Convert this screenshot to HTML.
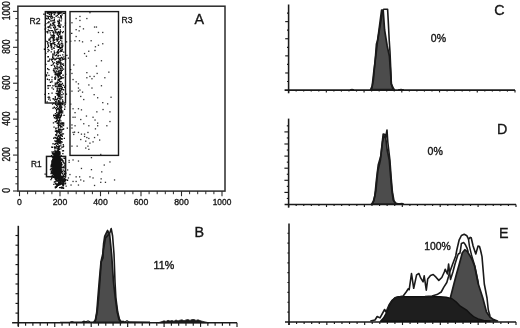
<!DOCTYPE html>
<html lang="en">
<head>
<meta charset="utf-8">
<title>Flow cytometry panels A-E</title>
<style>
html,body{margin:0;padding:0;background:#fff;}
body{width:520px;height:328px;overflow:hidden;}
svg{display:block;}
svg text{font-family:"Liberation Sans",sans-serif;fill:#161616;stroke:#161616;stroke-width:0.35px;}
</style>
</head>
<body>
<svg width="520" height="328" viewBox="0 0 520 328">
<rect width="520" height="328" fill="#ffffff"/>
<g id="panelA"><rect x="17.9" y="6.2" width="207.1" height="184.9" fill="none" stroke="#2b2b2b" stroke-width="1.5"/>
<line x1="13" y1="191.00" x2="17.9" y2="191.00" stroke="#2b2b2b" stroke-width="1.1"/>
<line x1="15.4" y1="183.82" x2="17.9" y2="183.82" stroke="#2b2b2b" stroke-width="1"/>
<line x1="15.4" y1="176.63" x2="17.9" y2="176.63" stroke="#2b2b2b" stroke-width="1"/>
<line x1="15.4" y1="169.45" x2="17.9" y2="169.45" stroke="#2b2b2b" stroke-width="1"/>
<line x1="15.4" y1="162.26" x2="17.9" y2="162.26" stroke="#2b2b2b" stroke-width="1"/>
<line x1="13" y1="155.08" x2="17.9" y2="155.08" stroke="#2b2b2b" stroke-width="1.1"/>
<line x1="15.4" y1="147.90" x2="17.9" y2="147.90" stroke="#2b2b2b" stroke-width="1"/>
<line x1="15.4" y1="140.71" x2="17.9" y2="140.71" stroke="#2b2b2b" stroke-width="1"/>
<line x1="15.4" y1="133.53" x2="17.9" y2="133.53" stroke="#2b2b2b" stroke-width="1"/>
<line x1="15.4" y1="126.34" x2="17.9" y2="126.34" stroke="#2b2b2b" stroke-width="1"/>
<line x1="13" y1="119.16" x2="17.9" y2="119.16" stroke="#2b2b2b" stroke-width="1.1"/>
<line x1="15.4" y1="111.98" x2="17.9" y2="111.98" stroke="#2b2b2b" stroke-width="1"/>
<line x1="15.4" y1="104.79" x2="17.9" y2="104.79" stroke="#2b2b2b" stroke-width="1"/>
<line x1="15.4" y1="97.61" x2="17.9" y2="97.61" stroke="#2b2b2b" stroke-width="1"/>
<line x1="15.4" y1="90.42" x2="17.9" y2="90.42" stroke="#2b2b2b" stroke-width="1"/>
<line x1="13" y1="83.24" x2="17.9" y2="83.24" stroke="#2b2b2b" stroke-width="1.1"/>
<line x1="15.4" y1="76.06" x2="17.9" y2="76.06" stroke="#2b2b2b" stroke-width="1"/>
<line x1="15.4" y1="68.87" x2="17.9" y2="68.87" stroke="#2b2b2b" stroke-width="1"/>
<line x1="15.4" y1="61.69" x2="17.9" y2="61.69" stroke="#2b2b2b" stroke-width="1"/>
<line x1="15.4" y1="54.50" x2="17.9" y2="54.50" stroke="#2b2b2b" stroke-width="1"/>
<line x1="13" y1="47.32" x2="17.9" y2="47.32" stroke="#2b2b2b" stroke-width="1.1"/>
<line x1="15.4" y1="40.14" x2="17.9" y2="40.14" stroke="#2b2b2b" stroke-width="1"/>
<line x1="15.4" y1="32.95" x2="17.9" y2="32.95" stroke="#2b2b2b" stroke-width="1"/>
<line x1="15.4" y1="25.77" x2="17.9" y2="25.77" stroke="#2b2b2b" stroke-width="1"/>
<line x1="15.4" y1="18.58" x2="17.9" y2="18.58" stroke="#2b2b2b" stroke-width="1"/>
<line x1="13" y1="11.40" x2="17.9" y2="11.40" stroke="#2b2b2b" stroke-width="1.1"/>
<line x1="19.50" y1="191" x2="19.50" y2="196.2" stroke="#2b2b2b" stroke-width="1.1"/>
<line x1="27.60" y1="191" x2="27.60" y2="194.2" stroke="#2b2b2b" stroke-width="1"/>
<line x1="35.70" y1="191" x2="35.70" y2="194.2" stroke="#2b2b2b" stroke-width="1"/>
<line x1="43.80" y1="191" x2="43.80" y2="194.2" stroke="#2b2b2b" stroke-width="1"/>
<line x1="51.90" y1="191" x2="51.90" y2="194.2" stroke="#2b2b2b" stroke-width="1"/>
<line x1="60.00" y1="191" x2="60.00" y2="196.2" stroke="#2b2b2b" stroke-width="1.1"/>
<line x1="68.10" y1="191" x2="68.10" y2="194.2" stroke="#2b2b2b" stroke-width="1"/>
<line x1="76.20" y1="191" x2="76.20" y2="194.2" stroke="#2b2b2b" stroke-width="1"/>
<line x1="84.30" y1="191" x2="84.30" y2="194.2" stroke="#2b2b2b" stroke-width="1"/>
<line x1="92.40" y1="191" x2="92.40" y2="194.2" stroke="#2b2b2b" stroke-width="1"/>
<line x1="100.50" y1="191" x2="100.50" y2="196.2" stroke="#2b2b2b" stroke-width="1.1"/>
<line x1="108.60" y1="191" x2="108.60" y2="194.2" stroke="#2b2b2b" stroke-width="1"/>
<line x1="116.70" y1="191" x2="116.70" y2="194.2" stroke="#2b2b2b" stroke-width="1"/>
<line x1="124.80" y1="191" x2="124.80" y2="194.2" stroke="#2b2b2b" stroke-width="1"/>
<line x1="132.90" y1="191" x2="132.90" y2="194.2" stroke="#2b2b2b" stroke-width="1"/>
<line x1="141.00" y1="191" x2="141.00" y2="196.2" stroke="#2b2b2b" stroke-width="1.1"/>
<line x1="149.10" y1="191" x2="149.10" y2="194.2" stroke="#2b2b2b" stroke-width="1"/>
<line x1="157.20" y1="191" x2="157.20" y2="194.2" stroke="#2b2b2b" stroke-width="1"/>
<line x1="165.30" y1="191" x2="165.30" y2="194.2" stroke="#2b2b2b" stroke-width="1"/>
<line x1="173.40" y1="191" x2="173.40" y2="194.2" stroke="#2b2b2b" stroke-width="1"/>
<line x1="181.50" y1="191" x2="181.50" y2="196.2" stroke="#2b2b2b" stroke-width="1.1"/>
<line x1="189.60" y1="191" x2="189.60" y2="194.2" stroke="#2b2b2b" stroke-width="1"/>
<line x1="197.70" y1="191" x2="197.70" y2="194.2" stroke="#2b2b2b" stroke-width="1"/>
<line x1="205.80" y1="191" x2="205.80" y2="194.2" stroke="#2b2b2b" stroke-width="1"/>
<line x1="213.90" y1="191" x2="213.90" y2="194.2" stroke="#2b2b2b" stroke-width="1"/>
<line x1="222.00" y1="191" x2="222.00" y2="196.2" stroke="#2b2b2b" stroke-width="1.1"/>
<text x="19.50" y="205" font-size="9.4" text-anchor="middle" textLength="4.8" lengthAdjust="spacingAndGlyphs">0</text>
<text transform="translate(9.9 190.40) rotate(-90)" font-size="10" text-anchor="middle" textLength="4.8" lengthAdjust="spacingAndGlyphs">0</text>
<text x="60.00" y="205" font-size="9.4" text-anchor="middle" textLength="14.5" lengthAdjust="spacingAndGlyphs">200</text>
<text transform="translate(9.9 154.48) rotate(-90)" font-size="10" text-anchor="middle" textLength="14.2" lengthAdjust="spacingAndGlyphs">200</text>
<text x="100.50" y="205" font-size="9.4" text-anchor="middle" textLength="14.5" lengthAdjust="spacingAndGlyphs">400</text>
<text transform="translate(9.9 118.56) rotate(-90)" font-size="10" text-anchor="middle" textLength="14.2" lengthAdjust="spacingAndGlyphs">400</text>
<text x="141.00" y="205" font-size="9.4" text-anchor="middle" textLength="14.5" lengthAdjust="spacingAndGlyphs">600</text>
<text transform="translate(9.9 82.64) rotate(-90)" font-size="10" text-anchor="middle" textLength="14.2" lengthAdjust="spacingAndGlyphs">600</text>
<text x="181.50" y="205" font-size="9.4" text-anchor="middle" textLength="14.5" lengthAdjust="spacingAndGlyphs">800</text>
<text transform="translate(9.9 46.72) rotate(-90)" font-size="10" text-anchor="middle" textLength="14.2" lengthAdjust="spacingAndGlyphs">800</text>
<text x="222.00" y="205" font-size="9.4" text-anchor="middle" textLength="18.6" lengthAdjust="spacingAndGlyphs">1000</text>
<text transform="translate(9.9 10.80) rotate(-90)" font-size="10" text-anchor="middle" textLength="19.0" lengthAdjust="spacingAndGlyphs">1000</text>
<rect x="45.3" y="11.6" width="20.2" height="91.4" fill="none" stroke="#1a1a1a" stroke-width="1.4"/>
<rect x="70" y="11.6" width="48.5" height="143.8" fill="none" stroke="#1a1a1a" stroke-width="1.4"/>
<rect x="46.5" y="156.4" width="19.1" height="20.3" fill="none" stroke="#1a1a1a" stroke-width="1.5"/>
<text x="29.6" y="24.2" font-size="9" textLength="11" lengthAdjust="spacingAndGlyphs">R2</text>
<text x="121.6" y="23.2" font-size="9" textLength="11" lengthAdjust="spacingAndGlyphs">R3</text>
<text x="31" y="167" font-size="9" textLength="10.6" lengthAdjust="spacingAndGlyphs">R1</text>
<text x="194.6" y="24.2" font-size="14.3">A</text>
<rect x="89.3" y="12.0" width="1.3" height="1.3" fill="#333"/>
<rect x="75.5" y="17.9" width="1.3" height="1.3" fill="#333"/>
<rect x="79.3" y="15.8" width="1.3" height="1.3" fill="#333"/>
<rect x="79.3" y="19.8" width="1.3" height="1.3" fill="#333"/>
<rect x="86.2" y="17.9" width="1.3" height="1.3" fill="#333"/>
<rect x="71.3" y="22.1" width="1.3" height="1.3" fill="#333"/>
<rect x="79.3" y="25.9" width="1.3" height="1.3" fill="#333"/>
<rect x="75.5" y="29.0" width="1.3" height="1.3" fill="#333"/>
<rect x="78.5" y="30.2" width="1.3" height="1.3" fill="#333"/>
<rect x="82.8" y="28.2" width="1.3" height="1.3" fill="#333"/>
<rect x="93.9" y="26.4" width="1.3" height="1.3" fill="#333"/>
<rect x="95.8" y="26.4" width="1.3" height="1.3" fill="#333"/>
<rect x="97.8" y="31.8" width="1.3" height="1.3" fill="#333"/>
<rect x="102.1" y="31.8" width="1.3" height="1.3" fill="#333"/>
<rect x="75.5" y="35.9" width="1.3" height="1.3" fill="#333"/>
<rect x="70.1" y="40.6" width="1.3" height="1.3" fill="#333"/>
<rect x="74.3" y="40.1" width="1.3" height="1.3" fill="#333"/>
<rect x="78.8" y="40.1" width="1.3" height="1.3" fill="#333"/>
<rect x="81.9" y="41.2" width="1.3" height="1.3" fill="#333"/>
<rect x="90.5" y="40.1" width="1.3" height="1.3" fill="#333"/>
<rect x="102.1" y="43.1" width="1.3" height="1.3" fill="#333"/>
<rect x="97.8" y="44.6" width="1.3" height="1.3" fill="#333"/>
<rect x="94.8" y="46.1" width="1.3" height="1.3" fill="#333"/>
<rect x="94.3" y="49.8" width="1.3" height="1.3" fill="#333"/>
<rect x="88.1" y="50.6" width="1.3" height="1.3" fill="#333"/>
<rect x="83.9" y="52.9" width="1.3" height="1.3" fill="#333"/>
<rect x="85.8" y="55.6" width="1.3" height="1.3" fill="#333"/>
<rect x="100.8" y="60.1" width="1.3" height="1.3" fill="#333"/>
<rect x="73.1" y="64.3" width="1.3" height="1.3" fill="#333"/>
<rect x="95.8" y="65.4" width="1.3" height="1.3" fill="#333"/>
<rect x="71.3" y="72.8" width="1.3" height="1.3" fill="#333"/>
<rect x="86.2" y="72.0" width="1.3" height="1.3" fill="#333"/>
<rect x="96.5" y="72.8" width="1.3" height="1.3" fill="#333"/>
<rect x="108.2" y="71.5" width="1.3" height="1.3" fill="#333"/>
<rect x="86.2" y="77.1" width="1.3" height="1.3" fill="#333"/>
<rect x="89.3" y="75.8" width="1.3" height="1.3" fill="#333"/>
<rect x="91.3" y="78.1" width="1.3" height="1.3" fill="#333"/>
<rect x="93.5" y="75.8" width="1.3" height="1.3" fill="#333"/>
<rect x="104.2" y="77.1" width="1.3" height="1.3" fill="#333"/>
<rect x="72.4" y="78.9" width="1.3" height="1.3" fill="#333"/>
<rect x="75.5" y="81.2" width="1.3" height="1.3" fill="#333"/>
<rect x="77.8" y="83.2" width="1.3" height="1.3" fill="#333"/>
<rect x="88.2" y="84.3" width="1.3" height="1.3" fill="#333"/>
<rect x="100.8" y="85.1" width="1.3" height="1.3" fill="#333"/>
<rect x="77.8" y="87.4" width="1.3" height="1.3" fill="#333"/>
<rect x="91.3" y="87.4" width="1.3" height="1.3" fill="#333"/>
<rect x="71.3" y="90.5" width="1.3" height="1.3" fill="#333"/>
<rect x="77.8" y="90.5" width="1.3" height="1.3" fill="#333"/>
<rect x="79.3" y="89.4" width="1.3" height="1.3" fill="#333"/>
<rect x="81.9" y="91.5" width="1.3" height="1.3" fill="#333"/>
<rect x="93.5" y="94.0" width="1.3" height="1.3" fill="#333"/>
<rect x="80.1" y="95.8" width="1.3" height="1.3" fill="#333"/>
<rect x="97.0" y="97.1" width="1.3" height="1.3" fill="#333"/>
<rect x="110.4" y="96.6" width="1.3" height="1.3" fill="#333"/>
<rect x="83.1" y="98.9" width="1.3" height="1.3" fill="#333"/>
<rect x="102.1" y="102.0" width="1.3" height="1.3" fill="#333"/>
<rect x="107.0" y="103.2" width="1.3" height="1.3" fill="#333"/>
<rect x="70.1" y="103.5" width="1.3" height="1.3" fill="#333"/>
<rect x="72.4" y="108.1" width="1.3" height="1.3" fill="#333"/>
<rect x="77.8" y="108.1" width="1.3" height="1.3" fill="#333"/>
<rect x="80.8" y="109.2" width="1.3" height="1.3" fill="#333"/>
<rect x="102.4" y="108.9" width="1.3" height="1.3" fill="#333"/>
<rect x="96.2" y="111.2" width="1.3" height="1.3" fill="#333"/>
<rect x="109.3" y="111.2" width="1.3" height="1.3" fill="#333"/>
<rect x="74.4" y="112.0" width="1.3" height="1.3" fill="#333"/>
<rect x="85.8" y="115.4" width="1.3" height="1.3" fill="#333"/>
<rect x="72.4" y="116.6" width="1.3" height="1.3" fill="#333"/>
<rect x="74.4" y="116.6" width="1.3" height="1.3" fill="#333"/>
<rect x="92.4" y="116.6" width="1.3" height="1.3" fill="#333"/>
<rect x="94.4" y="119.4" width="1.3" height="1.3" fill="#333"/>
<rect x="80.1" y="118.9" width="1.3" height="1.3" fill="#333"/>
<rect x="109.3" y="120.9" width="1.3" height="1.3" fill="#333"/>
<rect x="83.1" y="123.1" width="1.3" height="1.3" fill="#333"/>
<rect x="97.0" y="122.5" width="1.3" height="1.3" fill="#333"/>
<rect x="71.3" y="124.3" width="1.3" height="1.3" fill="#333"/>
<rect x="74.4" y="125.1" width="1.3" height="1.3" fill="#333"/>
<rect x="88.2" y="125.1" width="1.3" height="1.3" fill="#333"/>
<rect x="97.0" y="125.1" width="1.3" height="1.3" fill="#333"/>
<rect x="106.2" y="125.1" width="1.3" height="1.3" fill="#333"/>
<rect x="71.3" y="127.4" width="1.3" height="1.3" fill="#333"/>
<rect x="94.8" y="128.2" width="1.3" height="1.3" fill="#333"/>
<rect x="72.4" y="131.8" width="1.3" height="1.3" fill="#333"/>
<rect x="77.8" y="131.8" width="1.3" height="1.3" fill="#333"/>
<rect x="87.3" y="131.8" width="1.3" height="1.3" fill="#333"/>
<rect x="80.8" y="133.5" width="1.3" height="1.3" fill="#333"/>
<rect x="83.9" y="133.5" width="1.3" height="1.3" fill="#333"/>
<rect x="73.1" y="133.8" width="1.3" height="1.3" fill="#333"/>
<rect x="97.0" y="134.3" width="1.3" height="1.3" fill="#333"/>
<rect x="83.9" y="135.8" width="1.3" height="1.3" fill="#333"/>
<rect x="86.2" y="136.9" width="1.3" height="1.3" fill="#333"/>
<rect x="88.2" y="137.8" width="1.3" height="1.3" fill="#333"/>
<rect x="93.9" y="136.9" width="1.3" height="1.3" fill="#333"/>
<rect x="80.1" y="138.9" width="1.3" height="1.3" fill="#333"/>
<rect x="99.0" y="139.4" width="1.3" height="1.3" fill="#333"/>
<rect x="85.1" y="140.5" width="1.3" height="1.3" fill="#333"/>
<rect x="92.4" y="141.2" width="1.3" height="1.3" fill="#333"/>
<rect x="89.3" y="142.5" width="1.3" height="1.3" fill="#333"/>
<rect x="76.5" y="145.5" width="1.3" height="1.3" fill="#333"/>
<rect x="87.3" y="145.5" width="1.3" height="1.3" fill="#333"/>
<rect x="71.3" y="145.5" width="1.3" height="1.3" fill="#333"/>
<rect x="85.1" y="147.4" width="1.3" height="1.3" fill="#333"/>
<rect x="88.2" y="148.7" width="1.3" height="1.3" fill="#333"/>
<rect x="100.1" y="153.8" width="1.3" height="1.3" fill="#333"/>
<rect x="90.8" y="157.0" width="1.3" height="1.3" fill="#333"/>
<rect x="68.5" y="159.8" width="1.3" height="1.3" fill="#333"/>
<rect x="72.4" y="159.3" width="1.3" height="1.3" fill="#333"/>
<rect x="77.8" y="160.4" width="1.3" height="1.3" fill="#333"/>
<rect x="68.5" y="161.7" width="1.3" height="1.3" fill="#333"/>
<rect x="109.3" y="161.3" width="1.3" height="1.3" fill="#333"/>
<rect x="103.6" y="164.4" width="1.3" height="1.3" fill="#333"/>
<rect x="80.8" y="167.8" width="1.3" height="1.3" fill="#333"/>
<rect x="90.8" y="169.0" width="1.3" height="1.3" fill="#333"/>
<rect x="67.0" y="169.3" width="1.3" height="1.3" fill="#333"/>
<rect x="101.1" y="171.2" width="1.3" height="1.3" fill="#333"/>
<rect x="69.3" y="173.9" width="1.3" height="1.3" fill="#333"/>
<rect x="75.5" y="176.2" width="1.3" height="1.3" fill="#333"/>
<rect x="79.0" y="176.2" width="1.3" height="1.3" fill="#333"/>
<rect x="89.3" y="176.2" width="1.3" height="1.3" fill="#333"/>
<rect x="92.4" y="177.3" width="1.3" height="1.3" fill="#333"/>
<rect x="67.8" y="177.3" width="1.3" height="1.3" fill="#333"/>
<rect x="100.5" y="178.2" width="1.3" height="1.3" fill="#333"/>
<rect x="80.1" y="179.3" width="1.3" height="1.3" fill="#333"/>
<rect x="113.9" y="179.3" width="1.3" height="1.3" fill="#333"/>
<rect x="72.4" y="180.8" width="1.3" height="1.3" fill="#333"/>
<rect x="75.5" y="180.8" width="1.3" height="1.3" fill="#333"/>
<rect x="83.1" y="180.4" width="1.3" height="1.3" fill="#333"/>
<rect x="100.1" y="181.7" width="1.3" height="1.3" fill="#333"/>
<rect x="104.8" y="181.7" width="1.3" height="1.3" fill="#333"/>
<rect x="70.4" y="184.4" width="1.3" height="1.3" fill="#333"/>
<rect x="77.8" y="184.4" width="1.3" height="1.3" fill="#333"/>
<rect x="93.9" y="184.8" width="1.3" height="1.3" fill="#333"/>
<rect x="65.5" y="185.5" width="1.3" height="1.3" fill="#333"/>
<rect x="62.4" y="186.3" width="1.3" height="1.3" fill="#333"/>
<path d="M56.6 164.2h1.3v1.3h-1.3zM55.1 164.4h1.3v1.3h-1.3zM55.2 160.4h1.3v1.3h-1.3zM56.5 171.9h1.3v1.3h-1.3zM56.1 171.5h1.3v1.3h-1.3zM56.0 167.9h1.3v1.3h-1.3zM57.3 156.3h1.3v1.3h-1.3zM56.6 168.5h1.3v1.3h-1.3zM52.3 156.2h1.3v1.3h-1.3zM54.8 160.7h1.3v1.3h-1.3zM55.6 167.4h1.3v1.3h-1.3zM54.4 168.6h1.3v1.3h-1.3zM56.4 167.4h1.3v1.3h-1.3zM58.9 161.9h1.3v1.3h-1.3zM57.9 168.8h1.3v1.3h-1.3zM54.2 162.2h1.3v1.3h-1.3zM55.4 163.7h1.3v1.3h-1.3zM56.1 169.2h1.3v1.3h-1.3zM53.8 163.1h1.3v1.3h-1.3zM58.0 162.7h1.3v1.3h-1.3zM56.1 161.1h1.3v1.3h-1.3zM52.8 168.0h1.3v1.3h-1.3zM58.1 165.9h1.3v1.3h-1.3zM55.0 154.4h1.3v1.3h-1.3zM54.1 165.1h1.3v1.3h-1.3zM55.5 168.4h1.3v1.3h-1.3zM57.2 157.4h1.3v1.3h-1.3zM57.4 169.4h1.3v1.3h-1.3zM56.3 173.7h1.3v1.3h-1.3zM53.2 166.3h1.3v1.3h-1.3zM54.5 169.1h1.3v1.3h-1.3zM53.2 163.1h1.3v1.3h-1.3zM54.6 160.2h1.3v1.3h-1.3zM51.8 172.9h1.3v1.3h-1.3zM56.1 157.5h1.3v1.3h-1.3zM56.7 173.7h1.3v1.3h-1.3zM50.9 155.0h1.3v1.3h-1.3zM54.3 167.7h1.3v1.3h-1.3zM57.5 159.4h1.3v1.3h-1.3zM55.9 171.8h1.3v1.3h-1.3zM56.5 167.0h1.3v1.3h-1.3zM56.8 174.6h1.3v1.3h-1.3zM56.7 168.6h1.3v1.3h-1.3zM58.1 156.9h1.3v1.3h-1.3zM56.7 171.0h1.3v1.3h-1.3zM54.4 154.6h1.3v1.3h-1.3zM52.2 170.4h1.3v1.3h-1.3zM57.6 164.6h1.3v1.3h-1.3zM58.7 158.3h1.3v1.3h-1.3zM55.4 168.7h1.3v1.3h-1.3zM56.9 167.5h1.3v1.3h-1.3zM57.8 166.3h1.3v1.3h-1.3zM54.9 161.9h1.3v1.3h-1.3zM55.7 171.5h1.3v1.3h-1.3zM57.4 160.7h1.3v1.3h-1.3zM54.8 173.9h1.3v1.3h-1.3zM55.4 157.9h1.3v1.3h-1.3zM55.1 164.8h1.3v1.3h-1.3zM53.7 173.5h1.3v1.3h-1.3zM53.2 172.7h1.3v1.3h-1.3zM56.8 161.2h1.3v1.3h-1.3zM57.3 172.0h1.3v1.3h-1.3zM55.9 167.6h1.3v1.3h-1.3zM56.7 166.5h1.3v1.3h-1.3zM56.2 164.7h1.3v1.3h-1.3zM55.7 168.9h1.3v1.3h-1.3zM56.7 169.9h1.3v1.3h-1.3zM56.3 176.9h1.3v1.3h-1.3zM54.9 163.3h1.3v1.3h-1.3zM57.4 165.6h1.3v1.3h-1.3zM56.4 163.8h1.3v1.3h-1.3zM50.8 175.9h1.3v1.3h-1.3zM56.1 159.4h1.3v1.3h-1.3zM56.1 167.9h1.3v1.3h-1.3zM56.9 163.2h1.3v1.3h-1.3zM54.7 167.2h1.3v1.3h-1.3zM56.3 164.1h1.3v1.3h-1.3zM57.5 169.9h1.3v1.3h-1.3zM56.0 172.4h1.3v1.3h-1.3zM55.1 176.7h1.3v1.3h-1.3zM54.3 164.2h1.3v1.3h-1.3zM56.5 163.4h1.3v1.3h-1.3zM53.3 166.6h1.3v1.3h-1.3zM54.0 166.6h1.3v1.3h-1.3zM59.1 167.4h1.3v1.3h-1.3zM55.3 176.6h1.3v1.3h-1.3zM52.4 169.2h1.3v1.3h-1.3zM54.3 165.4h1.3v1.3h-1.3zM55.5 160.4h1.3v1.3h-1.3zM55.7 167.0h1.3v1.3h-1.3zM57.1 164.9h1.3v1.3h-1.3zM51.2 160.7h1.3v1.3h-1.3zM57.1 153.2h1.3v1.3h-1.3zM55.3 159.6h1.3v1.3h-1.3zM57.0 166.4h1.3v1.3h-1.3zM56.9 166.9h1.3v1.3h-1.3zM52.8 157.1h1.3v1.3h-1.3zM53.8 169.1h1.3v1.3h-1.3zM52.9 159.9h1.3v1.3h-1.3zM57.1 172.7h1.3v1.3h-1.3zM53.9 173.9h1.3v1.3h-1.3zM53.5 165.7h1.3v1.3h-1.3zM58.7 169.9h1.3v1.3h-1.3zM58.6 160.7h1.3v1.3h-1.3zM55.3 171.2h1.3v1.3h-1.3zM58.3 154.6h1.3v1.3h-1.3zM54.5 165.1h1.3v1.3h-1.3zM56.4 167.9h1.3v1.3h-1.3zM53.7 174.0h1.3v1.3h-1.3zM58.5 172.0h1.3v1.3h-1.3zM55.3 173.8h1.3v1.3h-1.3zM57.6 161.5h1.3v1.3h-1.3zM55.9 166.3h1.3v1.3h-1.3zM55.1 173.6h1.3v1.3h-1.3zM54.9 152.8h1.3v1.3h-1.3zM57.2 155.3h1.3v1.3h-1.3zM54.5 167.4h1.3v1.3h-1.3zM57.2 165.6h1.3v1.3h-1.3zM58.2 166.1h1.3v1.3h-1.3zM57.6 165.3h1.3v1.3h-1.3zM58.7 174.0h1.3v1.3h-1.3zM57.3 161.9h1.3v1.3h-1.3zM53.6 155.1h1.3v1.3h-1.3zM57.7 154.7h1.3v1.3h-1.3zM55.6 158.8h1.3v1.3h-1.3zM55.6 164.6h1.3v1.3h-1.3zM56.1 162.3h1.3v1.3h-1.3zM55.7 175.7h1.3v1.3h-1.3zM57.6 168.6h1.3v1.3h-1.3zM53.3 164.5h1.3v1.3h-1.3zM57.7 162.5h1.3v1.3h-1.3zM54.5 156.4h1.3v1.3h-1.3zM57.2 171.3h1.3v1.3h-1.3zM57.2 165.7h1.3v1.3h-1.3zM53.4 166.6h1.3v1.3h-1.3zM54.4 156.9h1.3v1.3h-1.3zM54.6 170.8h1.3v1.3h-1.3zM54.2 160.6h1.3v1.3h-1.3zM55.4 157.1h1.3v1.3h-1.3zM56.3 159.0h1.3v1.3h-1.3zM56.3 152.4h1.3v1.3h-1.3zM52.0 162.1h1.3v1.3h-1.3zM55.1 169.7h1.3v1.3h-1.3zM54.0 153.2h1.3v1.3h-1.3zM54.8 167.3h1.3v1.3h-1.3zM57.1 170.0h1.3v1.3h-1.3zM56.3 169.4h1.3v1.3h-1.3zM56.9 173.1h1.3v1.3h-1.3zM51.7 168.2h1.3v1.3h-1.3zM58.1 170.7h1.3v1.3h-1.3zM54.8 164.0h1.3v1.3h-1.3zM52.3 176.5h1.3v1.3h-1.3zM60.3 168.3h1.3v1.3h-1.3zM57.0 160.5h1.3v1.3h-1.3zM55.4 176.2h1.3v1.3h-1.3zM57.4 168.8h1.3v1.3h-1.3zM55.5 160.6h1.3v1.3h-1.3zM57.2 167.3h1.3v1.3h-1.3zM55.3 165.5h1.3v1.3h-1.3zM55.0 160.0h1.3v1.3h-1.3zM55.8 170.6h1.3v1.3h-1.3zM54.1 160.9h1.3v1.3h-1.3zM57.8 171.4h1.3v1.3h-1.3zM55.5 168.2h1.3v1.3h-1.3zM56.2 165.5h1.3v1.3h-1.3zM54.2 166.5h1.3v1.3h-1.3zM57.1 169.7h1.3v1.3h-1.3zM53.8 174.4h1.3v1.3h-1.3zM56.7 165.5h1.3v1.3h-1.3zM54.4 172.0h1.3v1.3h-1.3zM54.9 164.9h1.3v1.3h-1.3zM56.7 173.6h1.3v1.3h-1.3zM56.0 163.7h1.3v1.3h-1.3zM54.6 173.0h1.3v1.3h-1.3zM54.9 166.4h1.3v1.3h-1.3zM55.1 166.9h1.3v1.3h-1.3zM54.1 169.7h1.3v1.3h-1.3zM57.7 161.9h1.3v1.3h-1.3zM55.0 169.6h1.3v1.3h-1.3zM57.3 170.4h1.3v1.3h-1.3zM56.6 165.8h1.3v1.3h-1.3zM56.2 166.6h1.3v1.3h-1.3zM57.2 167.1h1.3v1.3h-1.3zM58.7 162.4h1.3v1.3h-1.3zM57.8 164.0h1.3v1.3h-1.3zM57.2 167.9h1.3v1.3h-1.3zM55.8 169.9h1.3v1.3h-1.3zM55.9 174.7h1.3v1.3h-1.3zM55.3 162.2h1.3v1.3h-1.3zM56.4 152.7h1.3v1.3h-1.3zM57.8 173.8h1.3v1.3h-1.3zM56.6 159.7h1.3v1.3h-1.3zM54.0 168.5h1.3v1.3h-1.3zM55.5 157.1h1.3v1.3h-1.3zM55.5 170.7h1.3v1.3h-1.3zM53.1 170.0h1.3v1.3h-1.3zM54.2 161.9h1.3v1.3h-1.3zM56.2 164.6h1.3v1.3h-1.3zM56.2 167.1h1.3v1.3h-1.3zM54.2 165.4h1.3v1.3h-1.3zM56.3 166.9h1.3v1.3h-1.3zM52.4 171.8h1.3v1.3h-1.3zM54.3 163.5h1.3v1.3h-1.3zM57.2 165.9h1.3v1.3h-1.3zM55.9 162.5h1.3v1.3h-1.3zM56.1 161.5h1.3v1.3h-1.3zM54.4 164.7h1.3v1.3h-1.3zM60.6 166.2h1.3v1.3h-1.3zM57.3 163.7h1.3v1.3h-1.3zM55.7 171.1h1.3v1.3h-1.3zM56.0 159.1h1.3v1.3h-1.3zM57.8 167.7h1.3v1.3h-1.3zM55.7 170.0h1.3v1.3h-1.3zM56.7 170.4h1.3v1.3h-1.3zM55.8 166.8h1.3v1.3h-1.3zM57.0 164.3h1.3v1.3h-1.3zM54.5 159.7h1.3v1.3h-1.3zM52.9 165.7h1.3v1.3h-1.3zM51.8 163.2h1.3v1.3h-1.3zM56.7 161.8h1.3v1.3h-1.3zM55.5 168.8h1.3v1.3h-1.3zM53.0 164.4h1.3v1.3h-1.3zM56.6 175.9h1.3v1.3h-1.3zM54.0 171.8h1.3v1.3h-1.3zM52.2 164.6h1.3v1.3h-1.3zM57.4 170.0h1.3v1.3h-1.3zM55.6 155.0h1.3v1.3h-1.3zM52.3 169.2h1.3v1.3h-1.3zM53.6 155.4h1.3v1.3h-1.3zM53.0 162.1h1.3v1.3h-1.3zM56.1 165.8h1.3v1.3h-1.3zM57.0 169.2h1.3v1.3h-1.3zM57.9 174.1h1.3v1.3h-1.3zM54.7 158.3h1.3v1.3h-1.3zM53.6 159.7h1.3v1.3h-1.3zM55.7 165.2h1.3v1.3h-1.3zM52.6 168.4h1.3v1.3h-1.3zM55.6 158.7h1.3v1.3h-1.3zM55.1 164.5h1.3v1.3h-1.3zM54.2 165.3h1.3v1.3h-1.3zM56.3 169.6h1.3v1.3h-1.3zM54.4 165.2h1.3v1.3h-1.3zM50.5 164.7h1.3v1.3h-1.3zM55.7 160.2h1.3v1.3h-1.3zM56.0 157.2h1.3v1.3h-1.3zM53.0 166.5h1.3v1.3h-1.3zM55.1 164.2h1.3v1.3h-1.3zM56.8 168.2h1.3v1.3h-1.3zM54.0 165.4h1.3v1.3h-1.3zM55.5 164.8h1.3v1.3h-1.3zM56.2 169.8h1.3v1.3h-1.3zM53.1 161.6h1.3v1.3h-1.3zM54.2 163.6h1.3v1.3h-1.3zM55.4 159.4h1.3v1.3h-1.3zM55.9 162.9h1.3v1.3h-1.3zM54.9 168.6h1.3v1.3h-1.3zM55.0 178.7h1.3v1.3h-1.3zM55.9 171.8h1.3v1.3h-1.3zM51.1 171.9h1.3v1.3h-1.3zM56.1 161.4h1.3v1.3h-1.3zM60.1 169.0h1.3v1.3h-1.3zM58.1 167.5h1.3v1.3h-1.3zM57.5 169.9h1.3v1.3h-1.3zM55.4 168.5h1.3v1.3h-1.3zM53.6 168.5h1.3v1.3h-1.3zM53.7 172.3h1.3v1.3h-1.3zM59.7 167.0h1.3v1.3h-1.3zM55.7 164.4h1.3v1.3h-1.3zM55.7 172.2h1.3v1.3h-1.3zM56.1 161.1h1.3v1.3h-1.3zM57.0 168.9h1.3v1.3h-1.3zM59.0 161.3h1.3v1.3h-1.3zM55.7 175.0h1.3v1.3h-1.3zM54.8 167.2h1.3v1.3h-1.3zM54.3 173.6h1.3v1.3h-1.3zM54.7 169.4h1.3v1.3h-1.3zM57.0 161.8h1.3v1.3h-1.3zM55.6 173.1h1.3v1.3h-1.3zM57.2 161.9h1.3v1.3h-1.3zM56.2 165.4h1.3v1.3h-1.3zM57.8 174.2h1.3v1.3h-1.3zM60.0 162.7h1.3v1.3h-1.3zM57.1 165.7h1.3v1.3h-1.3zM55.6 162.0h1.3v1.3h-1.3zM59.0 155.9h1.3v1.3h-1.3zM53.3 173.3h1.3v1.3h-1.3zM52.6 157.2h1.3v1.3h-1.3zM54.8 172.2h1.3v1.3h-1.3zM55.1 165.3h1.3v1.3h-1.3zM53.6 165.0h1.3v1.3h-1.3zM52.9 165.8h1.3v1.3h-1.3zM56.2 165.2h1.3v1.3h-1.3zM55.2 168.3h1.3v1.3h-1.3zM56.0 160.6h1.3v1.3h-1.3zM58.6 162.9h1.3v1.3h-1.3zM55.4 169.9h1.3v1.3h-1.3zM54.3 163.0h1.3v1.3h-1.3zM55.0 160.4h1.3v1.3h-1.3zM56.6 167.3h1.3v1.3h-1.3zM59.6 168.8h1.3v1.3h-1.3zM55.7 161.7h1.3v1.3h-1.3zM52.1 161.9h1.3v1.3h-1.3zM56.6 168.0h1.3v1.3h-1.3zM56.6 170.0h1.3v1.3h-1.3zM56.4 169.1h1.3v1.3h-1.3zM58.1 165.3h1.3v1.3h-1.3zM53.6 172.7h1.3v1.3h-1.3zM56.7 160.7h1.3v1.3h-1.3zM55.4 160.3h1.3v1.3h-1.3zM56.2 164.6h1.3v1.3h-1.3zM60.6 163.1h1.3v1.3h-1.3zM57.2 170.3h1.3v1.3h-1.3zM52.9 158.0h1.3v1.3h-1.3zM57.1 166.6h1.3v1.3h-1.3zM57.6 165.7h1.3v1.3h-1.3zM57.2 152.6h1.3v1.3h-1.3zM52.5 172.3h1.3v1.3h-1.3zM55.7 167.1h1.3v1.3h-1.3zM51.7 162.7h1.3v1.3h-1.3zM56.1 158.3h1.3v1.3h-1.3zM55.7 171.2h1.3v1.3h-1.3zM54.1 175.0h1.3v1.3h-1.3zM51.6 174.9h1.3v1.3h-1.3zM56.6 165.7h1.3v1.3h-1.3zM57.6 169.5h1.3v1.3h-1.3zM51.5 160.1h1.3v1.3h-1.3zM52.9 164.2h1.3v1.3h-1.3zM53.6 166.2h1.3v1.3h-1.3zM55.5 164.1h1.3v1.3h-1.3zM54.3 166.5h1.3v1.3h-1.3zM54.3 172.7h1.3v1.3h-1.3zM56.6 164.7h1.3v1.3h-1.3zM58.4 165.6h1.3v1.3h-1.3zM54.8 164.8h1.3v1.3h-1.3zM56.6 171.8h1.3v1.3h-1.3zM54.7 160.8h1.3v1.3h-1.3zM58.2 166.9h1.3v1.3h-1.3zM55.8 170.4h1.3v1.3h-1.3zM56.8 151.9h1.3v1.3h-1.3zM52.5 158.5h1.3v1.3h-1.3zM55.9 161.6h1.3v1.3h-1.3zM60.5 165.9h1.3v1.3h-1.3zM54.1 164.3h1.3v1.3h-1.3zM56.0 172.2h1.3v1.3h-1.3zM53.9 163.0h1.3v1.3h-1.3zM58.5 165.3h1.3v1.3h-1.3zM55.0 169.2h1.3v1.3h-1.3zM56.0 170.6h1.3v1.3h-1.3zM57.0 158.2h1.3v1.3h-1.3zM58.9 168.9h1.3v1.3h-1.3zM53.4 165.2h1.3v1.3h-1.3zM60.5 169.8h1.3v1.3h-1.3zM58.9 161.7h1.3v1.3h-1.3zM57.0 166.1h1.3v1.3h-1.3zM54.1 166.0h1.3v1.3h-1.3zM55.0 171.9h1.3v1.3h-1.3zM56.9 167.2h1.3v1.3h-1.3zM57.1 158.5h1.3v1.3h-1.3zM55.3 168.6h1.3v1.3h-1.3zM56.5 162.6h1.3v1.3h-1.3zM55.5 168.7h1.3v1.3h-1.3zM55.9 167.5h1.3v1.3h-1.3zM58.2 156.3h1.3v1.3h-1.3zM53.6 172.4h1.3v1.3h-1.3zM55.6 178.6h1.3v1.3h-1.3zM56.7 163.9h1.3v1.3h-1.3zM54.4 174.2h1.3v1.3h-1.3zM56.2 173.8h1.3v1.3h-1.3zM56.9 161.7h1.3v1.3h-1.3zM56.7 164.0h1.3v1.3h-1.3zM55.7 170.2h1.3v1.3h-1.3zM59.5 157.3h1.3v1.3h-1.3zM59.1 176.0h1.3v1.3h-1.3zM57.4 167.0h1.3v1.3h-1.3zM52.5 170.2h1.3v1.3h-1.3zM55.9 164.0h1.3v1.3h-1.3zM56.0 160.3h1.3v1.3h-1.3zM55.0 168.9h1.3v1.3h-1.3zM58.7 157.8h1.3v1.3h-1.3zM56.0 171.3h1.3v1.3h-1.3zM52.7 169.3h1.3v1.3h-1.3zM55.8 167.1h1.3v1.3h-1.3zM57.3 177.3h1.3v1.3h-1.3zM58.8 165.2h1.3v1.3h-1.3zM54.6 169.7h1.3v1.3h-1.3zM60.4 163.7h1.3v1.3h-1.3zM54.7 162.4h1.3v1.3h-1.3zM54.0 164.6h1.3v1.3h-1.3zM55.8 165.6h1.3v1.3h-1.3zM51.4 166.1h1.3v1.3h-1.3zM52.3 156.7h1.3v1.3h-1.3zM55.9 169.7h1.3v1.3h-1.3zM56.4 151.8h1.3v1.3h-1.3zM55.1 171.0h1.3v1.3h-1.3zM57.7 165.6h1.3v1.3h-1.3zM55.8 152.8h1.3v1.3h-1.3zM58.8 169.8h1.3v1.3h-1.3zM52.1 164.9h1.3v1.3h-1.3zM53.1 166.7h1.3v1.3h-1.3zM57.1 163.3h1.3v1.3h-1.3zM58.2 159.3h1.3v1.3h-1.3zM56.3 168.9h1.3v1.3h-1.3zM54.2 165.7h1.3v1.3h-1.3zM55.8 167.0h1.3v1.3h-1.3zM55.1 160.9h1.3v1.3h-1.3zM55.2 177.2h1.3v1.3h-1.3zM55.5 170.0h1.3v1.3h-1.3zM56.1 167.8h1.3v1.3h-1.3zM55.7 156.8h1.3v1.3h-1.3zM56.1 161.8h1.3v1.3h-1.3zM57.0 158.9h1.3v1.3h-1.3zM52.8 161.4h1.3v1.3h-1.3zM53.3 170.4h1.3v1.3h-1.3zM58.2 173.4h1.3v1.3h-1.3zM58.0 163.7h1.3v1.3h-1.3zM57.9 159.3h1.3v1.3h-1.3zM57.0 167.0h1.3v1.3h-1.3zM56.7 165.7h1.3v1.3h-1.3zM54.0 171.1h1.3v1.3h-1.3zM57.3 163.1h1.3v1.3h-1.3zM55.5 172.3h1.3v1.3h-1.3zM59.1 166.8h1.3v1.3h-1.3zM50.9 155.8h1.3v1.3h-1.3zM56.9 170.7h1.3v1.3h-1.3zM52.3 170.2h1.3v1.3h-1.3zM55.4 167.0h1.3v1.3h-1.3zM56.6 164.9h1.3v1.3h-1.3zM60.4 171.2h1.3v1.3h-1.3zM53.5 154.5h1.3v1.3h-1.3zM58.4 157.8h1.3v1.3h-1.3zM56.1 161.5h1.3v1.3h-1.3zM51.1 168.0h1.3v1.3h-1.3zM57.2 171.6h1.3v1.3h-1.3zM54.7 162.8h1.3v1.3h-1.3zM56.4 163.6h1.3v1.3h-1.3zM57.0 166.9h1.3v1.3h-1.3zM54.0 159.1h1.3v1.3h-1.3zM55.9 165.9h1.3v1.3h-1.3zM58.2 161.7h1.3v1.3h-1.3zM57.2 167.6h1.3v1.3h-1.3zM58.9 168.5h1.3v1.3h-1.3zM55.4 163.7h1.3v1.3h-1.3zM56.8 170.2h1.3v1.3h-1.3zM54.8 158.0h1.3v1.3h-1.3zM56.3 168.5h1.3v1.3h-1.3zM53.8 163.7h1.3v1.3h-1.3zM57.2 164.7h1.3v1.3h-1.3zM55.2 170.3h1.3v1.3h-1.3zM54.9 160.8h1.3v1.3h-1.3zM57.6 156.0h1.3v1.3h-1.3zM55.6 171.0h1.3v1.3h-1.3zM58.5 168.6h1.3v1.3h-1.3zM55.8 165.8h1.3v1.3h-1.3zM54.5 170.4h1.3v1.3h-1.3zM53.9 168.1h1.3v1.3h-1.3zM54.2 170.3h1.3v1.3h-1.3zM55.9 166.2h1.3v1.3h-1.3zM54.8 158.1h1.3v1.3h-1.3zM55.2 167.7h1.3v1.3h-1.3zM54.4 161.8h1.3v1.3h-1.3zM55.6 162.5h1.3v1.3h-1.3zM57.9 164.2h1.3v1.3h-1.3zM55.2 168.0h1.3v1.3h-1.3zM55.9 155.5h1.3v1.3h-1.3zM55.4 169.3h1.3v1.3h-1.3zM58.9 175.0h1.3v1.3h-1.3zM55.3 172.0h1.3v1.3h-1.3zM57.1 177.7h1.3v1.3h-1.3zM58.3 156.4h1.3v1.3h-1.3zM53.2 158.0h1.3v1.3h-1.3zM58.5 170.9h1.3v1.3h-1.3zM57.6 166.6h1.3v1.3h-1.3zM52.7 171.6h1.3v1.3h-1.3zM56.9 167.3h1.3v1.3h-1.3zM57.0 160.2h1.3v1.3h-1.3zM56.3 163.5h1.3v1.3h-1.3zM58.7 165.8h1.3v1.3h-1.3zM55.3 166.9h1.3v1.3h-1.3zM54.4 156.9h1.3v1.3h-1.3zM56.5 176.0h1.3v1.3h-1.3zM57.4 171.2h1.3v1.3h-1.3zM54.8 158.2h1.3v1.3h-1.3zM57.5 163.6h1.3v1.3h-1.3zM54.7 160.5h1.3v1.3h-1.3zM53.9 162.3h1.3v1.3h-1.3zM55.8 164.5h1.3v1.3h-1.3zM54.2 160.9h1.3v1.3h-1.3zM58.9 166.5h1.3v1.3h-1.3zM53.6 166.8h1.3v1.3h-1.3zM57.6 168.4h1.3v1.3h-1.3zM56.3 167.9h1.3v1.3h-1.3zM56.0 163.4h1.3v1.3h-1.3zM56.5 159.4h1.3v1.3h-1.3zM56.3 173.4h1.3v1.3h-1.3zM57.2 173.6h1.3v1.3h-1.3zM53.4 166.8h1.3v1.3h-1.3zM56.4 171.9h1.3v1.3h-1.3zM58.9 155.8h1.3v1.3h-1.3zM58.5 172.9h1.3v1.3h-1.3zM55.6 174.7h1.3v1.3h-1.3zM54.5 167.1h1.3v1.3h-1.3zM55.4 172.1h1.3v1.3h-1.3zM54.5 177.7h1.3v1.3h-1.3zM58.5 170.7h1.3v1.3h-1.3zM55.4 167.5h1.3v1.3h-1.3zM58.2 160.1h1.3v1.3h-1.3zM59.1 172.1h1.3v1.3h-1.3zM59.1 164.0h1.3v1.3h-1.3zM57.4 169.8h1.3v1.3h-1.3zM55.0 169.0h1.3v1.3h-1.3zM57.9 165.1h1.3v1.3h-1.3zM56.1 165.0h1.3v1.3h-1.3zM56.7 167.0h1.3v1.3h-1.3zM54.5 173.4h1.3v1.3h-1.3zM54.9 168.3h1.3v1.3h-1.3zM54.7 166.3h1.3v1.3h-1.3zM55.1 157.8h1.3v1.3h-1.3zM58.6 158.4h1.3v1.3h-1.3zM54.8 158.7h1.3v1.3h-1.3zM55.0 167.6h1.3v1.3h-1.3zM55.5 173.5h1.3v1.3h-1.3zM57.7 157.8h1.3v1.3h-1.3zM61.4 164.1h1.3v1.3h-1.3zM54.8 161.0h1.3v1.3h-1.3zM53.6 166.2h1.3v1.3h-1.3zM58.5 169.8h1.3v1.3h-1.3zM56.7 175.5h1.3v1.3h-1.3zM58.4 165.5h1.3v1.3h-1.3zM55.4 173.0h1.3v1.3h-1.3zM54.2 163.1h1.3v1.3h-1.3zM55.7 167.1h1.3v1.3h-1.3zM57.8 170.2h1.3v1.3h-1.3zM56.6 159.5h1.3v1.3h-1.3zM55.0 168.0h1.3v1.3h-1.3zM58.4 166.8h1.3v1.3h-1.3zM55.7 166.1h1.3v1.3h-1.3zM56.4 164.0h1.3v1.3h-1.3zM56.7 163.2h1.3v1.3h-1.3zM54.4 159.2h1.3v1.3h-1.3zM58.2 167.9h1.3v1.3h-1.3zM55.8 162.7h1.3v1.3h-1.3zM55.1 169.5h1.3v1.3h-1.3zM56.3 167.1h1.3v1.3h-1.3zM52.7 158.3h1.3v1.3h-1.3zM53.8 166.8h1.3v1.3h-1.3zM55.9 165.6h1.3v1.3h-1.3zM53.7 161.2h1.3v1.3h-1.3zM57.9 160.9h1.3v1.3h-1.3zM57.2 153.3h1.3v1.3h-1.3zM54.2 165.2h1.3v1.3h-1.3zM55.3 167.0h1.3v1.3h-1.3zM55.3 160.0h1.3v1.3h-1.3zM56.3 165.8h1.3v1.3h-1.3zM55.4 165.8h1.3v1.3h-1.3zM54.2 153.0h1.3v1.3h-1.3zM56.6 168.0h1.3v1.3h-1.3zM54.2 160.5h1.3v1.3h-1.3zM52.9 159.2h1.3v1.3h-1.3zM57.1 167.8h1.3v1.3h-1.3zM56.2 165.1h1.3v1.3h-1.3zM53.5 173.2h1.3v1.3h-1.3zM55.4 165.5h1.3v1.3h-1.3zM53.0 170.8h1.3v1.3h-1.3zM56.3 156.7h1.3v1.3h-1.3zM56.0 161.8h1.3v1.3h-1.3zM56.5 168.9h1.3v1.3h-1.3zM56.1 170.6h1.3v1.3h-1.3zM52.7 165.6h1.3v1.3h-1.3zM53.2 170.6h1.3v1.3h-1.3zM58.1 164.9h1.3v1.3h-1.3zM57.0 156.6h1.3v1.3h-1.3zM55.4 161.3h1.3v1.3h-1.3zM51.8 156.5h1.3v1.3h-1.3zM59.5 168.0h1.3v1.3h-1.3zM55.8 170.0h1.3v1.3h-1.3zM58.8 166.5h1.3v1.3h-1.3zM54.6 174.4h1.3v1.3h-1.3zM59.1 160.3h1.3v1.3h-1.3zM56.9 163.7h1.3v1.3h-1.3zM54.2 172.3h1.3v1.3h-1.3zM53.0 162.7h1.3v1.3h-1.3zM55.4 171.9h1.3v1.3h-1.3zM53.2 170.3h1.3v1.3h-1.3zM54.1 169.4h1.3v1.3h-1.3zM53.2 164.5h1.3v1.3h-1.3zM56.9 164.3h1.3v1.3h-1.3zM55.1 164.0h1.3v1.3h-1.3zM55.1 168.3h1.3v1.3h-1.3zM55.8 168.3h1.3v1.3h-1.3zM54.9 170.3h1.3v1.3h-1.3zM56.0 166.5h1.3v1.3h-1.3zM56.4 174.0h1.3v1.3h-1.3zM53.5 159.9h1.3v1.3h-1.3zM55.0 165.5h1.3v1.3h-1.3zM54.7 161.2h1.3v1.3h-1.3zM52.4 169.9h1.3v1.3h-1.3zM55.2 167.3h1.3v1.3h-1.3zM52.5 174.0h1.3v1.3h-1.3zM55.3 168.2h1.3v1.3h-1.3zM56.5 166.4h1.3v1.3h-1.3zM56.4 176.3h1.3v1.3h-1.3zM53.2 168.7h1.3v1.3h-1.3zM53.3 169.2h1.3v1.3h-1.3zM56.5 165.1h1.3v1.3h-1.3zM57.5 173.3h1.3v1.3h-1.3zM57.2 167.0h1.3v1.3h-1.3zM55.8 164.6h1.3v1.3h-1.3zM57.2 165.5h1.3v1.3h-1.3zM53.9 164.5h1.3v1.3h-1.3zM60.1 159.4h1.3v1.3h-1.3zM55.6 154.7h1.3v1.3h-1.3zM55.3 164.6h1.3v1.3h-1.3zM56.7 160.5h1.3v1.3h-1.3zM53.9 166.4h1.3v1.3h-1.3zM53.4 163.7h1.3v1.3h-1.3zM59.3 168.0h1.3v1.3h-1.3zM57.6 174.4h1.3v1.3h-1.3zM55.7 165.8h1.3v1.3h-1.3zM58.7 168.5h1.3v1.3h-1.3zM55.6 166.2h1.3v1.3h-1.3zM55.8 159.1h1.3v1.3h-1.3zM54.5 166.7h1.3v1.3h-1.3zM55.7 160.5h1.3v1.3h-1.3zM54.4 167.8h1.3v1.3h-1.3zM55.1 169.9h1.3v1.3h-1.3zM58.5 167.6h1.3v1.3h-1.3zM55.7 162.9h1.3v1.3h-1.3zM55.1 164.1h1.3v1.3h-1.3zM52.8 167.7h1.3v1.3h-1.3zM53.0 167.5h1.3v1.3h-1.3zM57.2 162.2h1.3v1.3h-1.3zM58.1 156.4h1.3v1.3h-1.3zM57.7 175.7h1.3v1.3h-1.3zM55.9 169.4h1.3v1.3h-1.3zM59.7 164.7h1.3v1.3h-1.3zM55.6 160.2h1.3v1.3h-1.3zM54.7 168.7h1.3v1.3h-1.3zM56.2 159.0h1.3v1.3h-1.3zM52.5 165.9h1.3v1.3h-1.3zM54.3 162.5h1.3v1.3h-1.3zM56.6 164.1h1.3v1.3h-1.3zM53.3 170.2h1.3v1.3h-1.3zM54.5 165.5h1.3v1.3h-1.3zM56.9 156.7h1.3v1.3h-1.3zM55.2 163.1h1.3v1.3h-1.3zM56.6 154.3h1.3v1.3h-1.3zM56.9 165.9h1.3v1.3h-1.3zM58.5 162.9h1.3v1.3h-1.3zM54.7 167.5h1.3v1.3h-1.3zM56.8 168.0h1.3v1.3h-1.3zM57.7 162.5h1.3v1.3h-1.3zM57.1 168.3h1.3v1.3h-1.3zM60.4 171.3h1.3v1.3h-1.3zM54.8 165.3h1.3v1.3h-1.3zM55.4 168.2h1.3v1.3h-1.3zM59.3 153.6h1.3v1.3h-1.3zM52.7 168.2h1.3v1.3h-1.3zM56.1 162.3h1.3v1.3h-1.3zM55.0 163.9h1.3v1.3h-1.3zM57.5 167.2h1.3v1.3h-1.3zM56.1 171.2h1.3v1.3h-1.3zM52.8 167.8h1.3v1.3h-1.3zM55.6 157.7h1.3v1.3h-1.3zM55.9 162.6h1.3v1.3h-1.3zM54.5 161.1h1.3v1.3h-1.3zM51.5 165.0h1.3v1.3h-1.3zM56.7 159.0h1.3v1.3h-1.3zM53.7 165.6h1.3v1.3h-1.3zM58.7 166.9h1.3v1.3h-1.3zM53.4 172.7h1.3v1.3h-1.3zM52.1 162.3h1.3v1.3h-1.3zM53.2 162.2h1.3v1.3h-1.3zM56.1 161.0h1.3v1.3h-1.3zM55.0 163.9h1.3v1.3h-1.3zM57.3 157.1h1.3v1.3h-1.3zM53.0 163.8h1.3v1.3h-1.3zM57.6 165.6h1.3v1.3h-1.3zM56.4 158.2h1.3v1.3h-1.3zM57.2 158.6h1.3v1.3h-1.3zM55.1 168.9h1.3v1.3h-1.3zM52.9 160.2h1.3v1.3h-1.3zM57.1 160.7h1.3v1.3h-1.3zM55.6 167.2h1.3v1.3h-1.3zM55.3 162.5h1.3v1.3h-1.3zM51.2 168.3h1.3v1.3h-1.3zM55.5 163.1h1.3v1.3h-1.3zM54.6 159.4h1.3v1.3h-1.3zM53.4 164.3h1.3v1.3h-1.3zM52.9 158.9h1.3v1.3h-1.3zM55.4 159.9h1.3v1.3h-1.3zM55.2 169.3h1.3v1.3h-1.3zM53.9 163.4h1.3v1.3h-1.3zM54.7 165.9h1.3v1.3h-1.3zM55.5 170.9h1.3v1.3h-1.3zM56.2 169.9h1.3v1.3h-1.3zM55.8 164.9h1.3v1.3h-1.3zM56.6 160.5h1.3v1.3h-1.3zM54.0 164.0h1.3v1.3h-1.3zM57.0 165.3h1.3v1.3h-1.3zM51.2 164.9h1.3v1.3h-1.3zM55.4 161.8h1.3v1.3h-1.3zM53.9 167.4h1.3v1.3h-1.3zM56.6 166.3h1.3v1.3h-1.3zM52.2 167.3h1.3v1.3h-1.3zM54.1 161.5h1.3v1.3h-1.3zM55.1 161.9h1.3v1.3h-1.3zM55.3 170.7h1.3v1.3h-1.3zM53.0 159.0h1.3v1.3h-1.3zM53.7 168.2h1.3v1.3h-1.3zM58.0 163.7h1.3v1.3h-1.3zM58.2 173.1h1.3v1.3h-1.3zM58.6 159.0h1.3v1.3h-1.3zM57.5 165.1h1.3v1.3h-1.3zM57.7 165.5h1.3v1.3h-1.3zM55.8 165.8h1.3v1.3h-1.3zM54.1 164.8h1.3v1.3h-1.3zM57.3 165.8h1.3v1.3h-1.3zM55.9 159.8h1.3v1.3h-1.3zM53.5 160.3h1.3v1.3h-1.3zM59.0 157.3h1.3v1.3h-1.3zM55.1 166.8h1.3v1.3h-1.3zM52.0 171.4h1.3v1.3h-1.3zM54.6 166.3h1.3v1.3h-1.3zM53.3 169.5h1.3v1.3h-1.3zM55.7 166.5h1.3v1.3h-1.3zM54.8 173.5h1.3v1.3h-1.3zM56.5 165.6h1.3v1.3h-1.3zM56.7 168.2h1.3v1.3h-1.3zM53.9 166.5h1.3v1.3h-1.3zM59.0 172.6h1.3v1.3h-1.3zM54.5 166.5h1.3v1.3h-1.3zM54.0 171.6h1.3v1.3h-1.3zM52.9 167.3h1.3v1.3h-1.3zM53.6 173.4h1.3v1.3h-1.3zM54.6 167.6h1.3v1.3h-1.3zM53.5 163.2h1.3v1.3h-1.3zM53.6 165.3h1.3v1.3h-1.3zM54.0 170.9h1.3v1.3h-1.3zM57.0 165.3h1.3v1.3h-1.3zM57.4 169.8h1.3v1.3h-1.3zM56.4 171.5h1.3v1.3h-1.3zM57.4 169.7h1.3v1.3h-1.3zM55.7 158.7h1.3v1.3h-1.3zM55.5 166.1h1.3v1.3h-1.3zM53.9 169.0h1.3v1.3h-1.3zM54.6 158.0h1.3v1.3h-1.3zM54.1 168.6h1.3v1.3h-1.3zM58.0 153.2h1.3v1.3h-1.3zM56.9 172.7h1.3v1.3h-1.3zM55.3 164.8h1.3v1.3h-1.3zM53.8 159.1h1.3v1.3h-1.3zM54.9 170.2h1.3v1.3h-1.3zM55.4 172.3h1.3v1.3h-1.3zM56.0 153.8h1.3v1.3h-1.3zM56.3 174.4h1.3v1.3h-1.3zM54.4 162.1h1.3v1.3h-1.3zM54.3 169.1h1.3v1.3h-1.3zM56.0 158.9h1.3v1.3h-1.3zM54.4 166.1h1.3v1.3h-1.3zM56.4 160.3h1.3v1.3h-1.3zM54.5 155.8h1.3v1.3h-1.3zM59.1 162.9h1.3v1.3h-1.3zM56.9 160.2h1.3v1.3h-1.3zM57.9 164.7h1.3v1.3h-1.3zM55.2 173.7h1.3v1.3h-1.3zM54.0 167.0h1.3v1.3h-1.3zM57.1 163.7h1.3v1.3h-1.3zM54.3 158.8h1.3v1.3h-1.3zM55.1 166.0h1.3v1.3h-1.3zM51.8 163.7h1.3v1.3h-1.3zM55.5 163.9h1.3v1.3h-1.3zM55.9 165.5h1.3v1.3h-1.3zM59.6 170.3h1.3v1.3h-1.3zM53.9 159.3h1.3v1.3h-1.3zM51.6 168.6h1.3v1.3h-1.3zM54.0 159.7h1.3v1.3h-1.3zM53.6 159.6h1.3v1.3h-1.3zM54.0 158.7h1.3v1.3h-1.3zM58.4 167.6h1.3v1.3h-1.3zM56.5 156.5h1.3v1.3h-1.3zM56.4 168.5h1.3v1.3h-1.3zM56.4 175.1h1.3v1.3h-1.3zM54.2 172.7h1.3v1.3h-1.3zM58.2 158.6h1.3v1.3h-1.3zM53.3 167.3h1.3v1.3h-1.3zM57.3 165.4h1.3v1.3h-1.3zM56.4 161.3h1.3v1.3h-1.3zM56.8 158.4h1.3v1.3h-1.3zM55.4 167.4h1.3v1.3h-1.3zM55.4 164.2h1.3v1.3h-1.3zM58.0 173.1h1.3v1.3h-1.3zM53.7 154.5h1.3v1.3h-1.3zM55.8 164.8h1.3v1.3h-1.3zM57.3 160.0h1.3v1.3h-1.3zM53.6 162.7h1.3v1.3h-1.3zM56.1 163.4h1.3v1.3h-1.3zM54.6 163.3h1.3v1.3h-1.3zM55.9 166.2h1.3v1.3h-1.3zM55.7 174.1h1.3v1.3h-1.3zM59.1 176.2h1.3v1.3h-1.3zM57.7 175.3h1.3v1.3h-1.3zM55.9 166.4h1.3v1.3h-1.3zM54.3 164.9h1.3v1.3h-1.3zM54.4 165.3h1.3v1.3h-1.3zM56.7 174.8h1.3v1.3h-1.3zM52.0 163.1h1.3v1.3h-1.3zM54.9 165.4h1.3v1.3h-1.3zM53.5 159.6h1.3v1.3h-1.3zM56.7 153.0h1.3v1.3h-1.3zM60.6 165.3h1.3v1.3h-1.3zM55.4 165.5h1.3v1.3h-1.3zM55.9 173.7h1.3v1.3h-1.3zM54.9 166.6h1.3v1.3h-1.3zM58.5 162.3h1.3v1.3h-1.3zM58.9 171.3h1.3v1.3h-1.3zM55.7 163.7h1.3v1.3h-1.3zM57.5 160.7h1.3v1.3h-1.3zM56.7 157.8h1.3v1.3h-1.3zM58.3 171.8h1.3v1.3h-1.3zM57.7 160.4h1.3v1.3h-1.3zM54.2 161.7h1.3v1.3h-1.3zM57.8 158.2h1.3v1.3h-1.3zM54.5 174.9h1.3v1.3h-1.3zM55.0 161.4h1.3v1.3h-1.3zM57.6 169.0h1.3v1.3h-1.3zM54.1 168.0h1.3v1.3h-1.3zM52.4 153.5h1.3v1.3h-1.3zM53.4 169.4h1.3v1.3h-1.3zM57.5 163.5h1.3v1.3h-1.3zM54.5 169.8h1.3v1.3h-1.3zM53.3 162.6h1.3v1.3h-1.3zM53.6 173.7h1.3v1.3h-1.3zM55.8 165.6h1.3v1.3h-1.3zM57.6 165.2h1.3v1.3h-1.3zM53.8 156.8h1.3v1.3h-1.3zM55.3 166.9h1.3v1.3h-1.3zM52.6 170.8h1.3v1.3h-1.3zM53.8 170.5h1.3v1.3h-1.3zM59.3 164.0h1.3v1.3h-1.3zM52.9 168.6h1.3v1.3h-1.3zM54.7 170.1h1.3v1.3h-1.3zM56.9 171.8h1.3v1.3h-1.3zM54.4 166.7h1.3v1.3h-1.3zM51.2 165.7h1.3v1.3h-1.3zM58.2 166.4h1.3v1.3h-1.3zM53.7 162.9h1.3v1.3h-1.3zM57.1 166.8h1.3v1.3h-1.3zM52.3 165.7h1.3v1.3h-1.3zM55.9 163.3h1.3v1.3h-1.3zM52.6 169.0h1.3v1.3h-1.3zM58.1 166.4h1.3v1.3h-1.3zM53.3 174.9h1.3v1.3h-1.3zM55.4 159.3h1.3v1.3h-1.3zM55.0 162.6h1.3v1.3h-1.3zM56.8 166.9h1.3v1.3h-1.3zM53.9 164.0h1.3v1.3h-1.3zM54.9 160.4h1.3v1.3h-1.3zM55.5 162.5h1.3v1.3h-1.3zM57.4 159.8h1.3v1.3h-1.3zM57.3 171.9h1.3v1.3h-1.3zM54.6 166.4h1.3v1.3h-1.3zM54.6 161.4h1.3v1.3h-1.3zM55.6 164.5h1.3v1.3h-1.3zM56.9 173.6h1.3v1.3h-1.3zM55.9 158.4h1.3v1.3h-1.3zM58.9 164.9h1.3v1.3h-1.3zM57.7 153.5h1.3v1.3h-1.3zM52.2 166.8h1.3v1.3h-1.3zM55.3 169.8h1.3v1.3h-1.3zM56.0 169.3h1.3v1.3h-1.3zM56.4 166.6h1.3v1.3h-1.3zM56.4 172.4h1.3v1.3h-1.3zM54.1 169.9h1.3v1.3h-1.3zM54.3 177.3h1.3v1.3h-1.3zM56.7 172.6h1.3v1.3h-1.3zM56.2 163.4h1.3v1.3h-1.3zM55.3 169.8h1.3v1.3h-1.3zM54.6 158.3h1.3v1.3h-1.3zM54.9 173.7h1.3v1.3h-1.3zM56.9 160.9h1.3v1.3h-1.3zM59.8 173.5h1.3v1.3h-1.3zM55.6 169.6h1.3v1.3h-1.3zM56.0 169.8h1.3v1.3h-1.3zM58.9 158.4h1.3v1.3h-1.3zM53.6 174.5h1.3v1.3h-1.3zM56.6 175.1h1.3v1.3h-1.3zM53.0 163.6h1.3v1.3h-1.3zM55.6 167.5h1.3v1.3h-1.3zM58.2 171.4h1.3v1.3h-1.3zM54.6 173.5h1.3v1.3h-1.3zM58.1 163.4h1.3v1.3h-1.3zM54.8 165.8h1.3v1.3h-1.3zM57.0 163.7h1.3v1.3h-1.3zM57.2 170.2h1.3v1.3h-1.3zM56.9 167.7h1.3v1.3h-1.3zM57.9 170.9h1.3v1.3h-1.3zM55.9 174.5h1.3v1.3h-1.3zM56.1 166.2h1.3v1.3h-1.3zM55.1 169.2h1.3v1.3h-1.3zM54.1 175.9h1.3v1.3h-1.3zM55.0 168.0h1.3v1.3h-1.3zM55.9 163.3h1.3v1.3h-1.3zM54.1 175.4h1.3v1.3h-1.3zM54.1 161.4h1.3v1.3h-1.3zM58.6 160.1h1.3v1.3h-1.3zM56.0 157.9h1.3v1.3h-1.3zM56.7 168.1h1.3v1.3h-1.3zM56.7 174.0h1.3v1.3h-1.3zM55.3 162.7h1.3v1.3h-1.3zM54.6 168.7h1.3v1.3h-1.3zM56.2 162.9h1.3v1.3h-1.3zM59.3 164.2h1.3v1.3h-1.3zM56.6 163.9h1.3v1.3h-1.3zM55.7 160.8h1.3v1.3h-1.3zM55.1 167.9h1.3v1.3h-1.3zM55.6 167.5h1.3v1.3h-1.3zM53.9 172.2h1.3v1.3h-1.3zM57.8 167.2h1.3v1.3h-1.3zM57.1 164.7h1.3v1.3h-1.3zM57.4 167.2h1.3v1.3h-1.3zM55.3 175.3h1.3v1.3h-1.3zM56.6 169.4h1.3v1.3h-1.3zM55.3 167.2h1.3v1.3h-1.3zM54.1 165.0h1.3v1.3h-1.3zM55.6 166.6h1.3v1.3h-1.3zM54.0 167.4h1.3v1.3h-1.3zM55.7 165.9h1.3v1.3h-1.3zM53.6 169.0h1.3v1.3h-1.3zM57.5 168.0h1.3v1.3h-1.3zM54.9 169.0h1.3v1.3h-1.3zM55.2 162.9h1.3v1.3h-1.3zM58.6 169.7h1.3v1.3h-1.3zM54.4 164.8h1.3v1.3h-1.3zM56.0 167.8h1.3v1.3h-1.3zM54.2 160.6h1.3v1.3h-1.3zM56.9 165.1h1.3v1.3h-1.3zM53.7 159.0h1.3v1.3h-1.3zM53.3 168.4h1.3v1.3h-1.3zM56.3 166.3h1.3v1.3h-1.3zM53.7 165.0h1.3v1.3h-1.3zM55.0 165.3h1.3v1.3h-1.3zM54.1 167.5h1.3v1.3h-1.3zM52.5 171.8h1.3v1.3h-1.3zM55.7 164.7h1.3v1.3h-1.3zM54.5 171.0h1.3v1.3h-1.3zM54.6 168.7h1.3v1.3h-1.3zM59.0 169.8h1.3v1.3h-1.3zM56.5 163.4h1.3v1.3h-1.3zM57.5 160.5h1.3v1.3h-1.3zM55.7 172.4h1.3v1.3h-1.3zM56.4 159.3h1.3v1.3h-1.3zM57.7 172.1h1.3v1.3h-1.3zM52.2 170.2h1.3v1.3h-1.3zM58.4 161.8h1.3v1.3h-1.3zM57.8 158.8h1.3v1.3h-1.3zM57.1 176.2h1.3v1.3h-1.3zM55.0 171.9h1.3v1.3h-1.3zM55.5 158.8h1.3v1.3h-1.3zM55.6 164.5h1.3v1.3h-1.3zM55.4 169.6h1.3v1.3h-1.3zM56.5 166.7h1.3v1.3h-1.3zM59.2 165.6h1.3v1.3h-1.3zM55.8 168.1h1.3v1.3h-1.3zM54.5 164.5h1.3v1.3h-1.3zM55.9 173.2h1.3v1.3h-1.3zM54.6 159.6h1.3v1.3h-1.3zM54.8 164.9h1.3v1.3h-1.3zM53.4 171.7h1.3v1.3h-1.3zM55.9 168.4h1.3v1.3h-1.3zM55.7 159.1h1.3v1.3h-1.3zM56.6 165.1h1.3v1.3h-1.3zM56.2 163.1h1.3v1.3h-1.3zM53.6 156.3h1.3v1.3h-1.3zM57.6 170.0h1.3v1.3h-1.3zM54.5 165.6h1.3v1.3h-1.3zM51.7 171.7h1.3v1.3h-1.3zM56.9 161.2h1.3v1.3h-1.3zM53.7 169.3h1.3v1.3h-1.3zM58.4 155.1h1.3v1.3h-1.3zM53.9 166.5h1.3v1.3h-1.3zM57.4 166.0h1.3v1.3h-1.3zM57.8 151.1h1.3v1.3h-1.3zM51.7 169.8h1.3v1.3h-1.3zM52.3 170.0h1.3v1.3h-1.3zM56.4 172.0h1.3v1.3h-1.3zM54.5 178.3h1.3v1.3h-1.3zM57.6 165.7h1.3v1.3h-1.3zM54.3 162.1h1.3v1.3h-1.3zM55.5 163.6h1.3v1.3h-1.3zM56.6 159.6h1.3v1.3h-1.3zM55.8 168.7h1.3v1.3h-1.3zM55.0 175.2h1.3v1.3h-1.3zM54.6 173.0h1.3v1.3h-1.3zM52.0 169.9h1.3v1.3h-1.3zM55.3 166.8h1.3v1.3h-1.3zM54.5 162.9h1.3v1.3h-1.3zM54.3 163.7h1.3v1.3h-1.3zM54.5 153.4h1.3v1.3h-1.3zM54.7 162.6h1.3v1.3h-1.3zM55.4 159.7h1.3v1.3h-1.3zM55.2 170.0h1.3v1.3h-1.3zM58.2 162.9h1.3v1.3h-1.3zM57.4 171.1h1.3v1.3h-1.3zM55.0 172.1h1.3v1.3h-1.3zM57.8 164.9h1.3v1.3h-1.3zM55.4 162.5h1.3v1.3h-1.3zM56.4 167.8h1.3v1.3h-1.3zM57.5 164.1h1.3v1.3h-1.3zM57.0 164.7h1.3v1.3h-1.3zM56.9 171.6h1.3v1.3h-1.3zM53.4 169.8h1.3v1.3h-1.3zM54.5 158.3h1.3v1.3h-1.3zM58.5 168.3h1.3v1.3h-1.3zM56.2 158.8h1.3v1.3h-1.3zM54.3 160.9h1.3v1.3h-1.3zM57.0 164.1h1.3v1.3h-1.3zM57.9 166.8h1.3v1.3h-1.3zM57.3 160.1h1.3v1.3h-1.3zM55.8 170.9h1.3v1.3h-1.3zM54.6 168.3h1.3v1.3h-1.3zM54.9 159.5h1.3v1.3h-1.3zM61.1 162.1h1.3v1.3h-1.3zM58.8 162.9h1.3v1.3h-1.3zM56.2 166.8h1.3v1.3h-1.3zM54.2 169.8h1.3v1.3h-1.3zM56.4 170.8h1.3v1.3h-1.3zM56.8 157.2h1.3v1.3h-1.3zM56.5 168.7h1.3v1.3h-1.3zM54.9 174.5h1.3v1.3h-1.3zM57.1 168.5h1.3v1.3h-1.3zM57.9 160.6h1.3v1.3h-1.3zM53.2 157.5h1.3v1.3h-1.3zM53.6 168.6h1.3v1.3h-1.3zM52.5 165.0h1.3v1.3h-1.3zM53.5 166.0h1.3v1.3h-1.3zM52.7 167.6h1.3v1.3h-1.3zM55.1 168.2h1.3v1.3h-1.3zM55.5 166.0h1.3v1.3h-1.3zM53.1 166.4h1.3v1.3h-1.3zM55.7 151.3h1.3v1.3h-1.3zM54.8 160.4h1.3v1.3h-1.3zM51.9 168.0h1.3v1.3h-1.3zM54.5 161.4h1.3v1.3h-1.3zM56.3 159.7h1.3v1.3h-1.3zM54.1 164.9h1.3v1.3h-1.3zM57.2 160.1h1.3v1.3h-1.3zM56.8 162.0h1.3v1.3h-1.3zM52.1 168.2h1.3v1.3h-1.3zM55.7 159.6h1.3v1.3h-1.3zM57.1 167.6h1.3v1.3h-1.3zM57.6 170.1h1.3v1.3h-1.3zM55.3 163.6h1.3v1.3h-1.3zM54.8 170.0h1.3v1.3h-1.3zM52.6 171.6h1.3v1.3h-1.3zM55.3 169.3h1.3v1.3h-1.3zM57.5 154.6h1.3v1.3h-1.3zM55.7 167.4h1.3v1.3h-1.3zM54.8 159.6h1.3v1.3h-1.3zM54.1 174.1h1.3v1.3h-1.3zM54.0 146.2h1.3v1.3h-1.3zM55.4 158.9h1.3v1.3h-1.3zM53.9 163.4h1.3v1.3h-1.3zM57.6 160.9h1.3v1.3h-1.3zM59.4 157.6h1.3v1.3h-1.3zM53.6 162.6h1.3v1.3h-1.3zM56.7 170.1h1.3v1.3h-1.3zM57.1 159.8h1.3v1.3h-1.3zM53.9 155.3h1.3v1.3h-1.3zM55.2 172.0h1.3v1.3h-1.3zM56.6 158.4h1.3v1.3h-1.3zM55.6 170.8h1.3v1.3h-1.3zM55.0 155.5h1.3v1.3h-1.3zM57.1 168.0h1.3v1.3h-1.3zM55.2 176.0h1.3v1.3h-1.3zM55.6 162.9h1.3v1.3h-1.3zM53.9 172.4h1.3v1.3h-1.3zM50.4 173.0h1.3v1.3h-1.3zM54.4 170.1h1.3v1.3h-1.3zM57.0 168.2h1.3v1.3h-1.3zM55.5 159.0h1.3v1.3h-1.3zM56.8 167.0h1.3v1.3h-1.3zM53.8 160.4h1.3v1.3h-1.3zM60.5 154.9h1.3v1.3h-1.3zM55.2 164.6h1.3v1.3h-1.3zM57.4 157.3h1.3v1.3h-1.3zM58.4 162.7h1.3v1.3h-1.3zM55.7 170.4h1.3v1.3h-1.3zM53.5 169.7h1.3v1.3h-1.3zM54.6 163.8h1.3v1.3h-1.3zM55.7 158.5h1.3v1.3h-1.3zM58.4 164.8h1.3v1.3h-1.3zM54.4 146.9h1.3v1.3h-1.3zM54.8 160.5h1.3v1.3h-1.3zM56.4 168.0h1.3v1.3h-1.3zM54.7 165.8h1.3v1.3h-1.3zM56.3 168.4h1.3v1.3h-1.3zM55.2 155.3h1.3v1.3h-1.3zM53.4 158.0h1.3v1.3h-1.3zM55.8 166.5h1.3v1.3h-1.3zM54.0 166.3h1.3v1.3h-1.3zM53.9 164.5h1.3v1.3h-1.3zM57.0 167.8h1.3v1.3h-1.3zM58.1 175.5h1.3v1.3h-1.3zM54.8 161.1h1.3v1.3h-1.3zM56.2 160.4h1.3v1.3h-1.3zM57.0 176.7h1.3v1.3h-1.3zM53.3 153.3h1.3v1.3h-1.3zM56.6 158.4h1.3v1.3h-1.3zM56.2 165.7h1.3v1.3h-1.3zM54.1 175.6h1.3v1.3h-1.3zM59.4 160.9h1.3v1.3h-1.3zM54.2 167.6h1.3v1.3h-1.3zM52.8 154.3h1.3v1.3h-1.3zM55.8 152.0h1.3v1.3h-1.3zM57.5 165.9h1.3v1.3h-1.3zM54.3 164.9h1.3v1.3h-1.3zM59.3 161.5h1.3v1.3h-1.3zM56.0 155.8h1.3v1.3h-1.3zM56.8 165.8h1.3v1.3h-1.3zM56.6 163.4h1.3v1.3h-1.3zM55.4 170.2h1.3v1.3h-1.3zM55.3 163.1h1.3v1.3h-1.3zM55.3 160.2h1.3v1.3h-1.3zM56.0 164.0h1.3v1.3h-1.3zM58.1 173.1h1.3v1.3h-1.3zM56.8 163.2h1.3v1.3h-1.3zM57.1 167.3h1.3v1.3h-1.3zM56.2 165.8h1.3v1.3h-1.3zM54.2 163.0h1.3v1.3h-1.3zM58.1 170.5h1.3v1.3h-1.3zM56.5 169.4h1.3v1.3h-1.3zM54.8 167.1h1.3v1.3h-1.3zM56.9 155.7h1.3v1.3h-1.3zM54.6 166.8h1.3v1.3h-1.3zM58.1 160.2h1.3v1.3h-1.3zM59.0 155.5h1.3v1.3h-1.3zM60.2 169.2h1.3v1.3h-1.3zM55.6 161.6h1.3v1.3h-1.3zM55.9 162.8h1.3v1.3h-1.3zM54.2 164.5h1.3v1.3h-1.3zM54.2 171.7h1.3v1.3h-1.3zM56.7 162.8h1.3v1.3h-1.3zM54.8 162.6h1.3v1.3h-1.3zM55.0 167.6h1.3v1.3h-1.3zM55.5 158.7h1.3v1.3h-1.3zM58.9 164.4h1.3v1.3h-1.3zM57.5 159.5h1.3v1.3h-1.3zM55.0 161.2h1.3v1.3h-1.3zM56.2 163.8h1.3v1.3h-1.3zM59.0 170.5h1.3v1.3h-1.3zM58.2 162.1h1.3v1.3h-1.3zM57.2 171.2h1.3v1.3h-1.3zM57.4 161.4h1.3v1.3h-1.3zM56.3 165.0h1.3v1.3h-1.3zM56.9 164.1h1.3v1.3h-1.3zM57.8 171.9h1.3v1.3h-1.3zM57.5 164.5h1.3v1.3h-1.3zM53.9 173.8h1.3v1.3h-1.3zM53.1 173.9h1.3v1.3h-1.3zM56.8 168.7h1.3v1.3h-1.3zM56.2 174.0h1.3v1.3h-1.3zM54.1 163.0h1.3v1.3h-1.3zM57.1 158.6h1.3v1.3h-1.3zM54.3 164.3h1.3v1.3h-1.3zM54.2 168.6h1.3v1.3h-1.3zM54.8 163.2h1.3v1.3h-1.3zM58.4 174.9h1.3v1.3h-1.3zM52.7 164.8h1.3v1.3h-1.3zM55.8 167.2h1.3v1.3h-1.3zM56.7 167.6h1.3v1.3h-1.3zM57.4 163.9h1.3v1.3h-1.3zM56.1 170.3h1.3v1.3h-1.3zM54.7 163.4h1.3v1.3h-1.3zM53.6 169.5h1.3v1.3h-1.3zM54.2 164.8h1.3v1.3h-1.3zM56.8 157.8h1.3v1.3h-1.3zM55.7 165.5h1.3v1.3h-1.3zM52.8 170.5h1.3v1.3h-1.3zM56.2 165.3h1.3v1.3h-1.3zM53.6 170.3h1.3v1.3h-1.3zM56.1 169.7h1.3v1.3h-1.3zM57.8 173.2h1.3v1.3h-1.3zM59.7 168.7h1.3v1.3h-1.3zM54.8 165.6h1.3v1.3h-1.3zM53.9 163.7h1.3v1.3h-1.3zM52.1 165.5h1.3v1.3h-1.3zM56.5 165.2h1.3v1.3h-1.3zM55.0 171.2h1.3v1.3h-1.3zM54.4 173.4h1.3v1.3h-1.3zM52.1 164.9h1.3v1.3h-1.3zM54.1 161.4h1.3v1.3h-1.3zM56.6 173.8h1.3v1.3h-1.3zM56.6 159.6h1.3v1.3h-1.3zM55.2 168.3h1.3v1.3h-1.3zM55.1 165.8h1.3v1.3h-1.3zM52.4 162.7h1.3v1.3h-1.3zM58.0 165.2h1.3v1.3h-1.3zM55.1 173.5h1.3v1.3h-1.3zM55.3 161.6h1.3v1.3h-1.3zM56.3 170.6h1.3v1.3h-1.3zM56.3 162.5h1.3v1.3h-1.3zM56.6 164.5h1.3v1.3h-1.3zM52.9 163.4h1.3v1.3h-1.3zM57.1 166.0h1.3v1.3h-1.3zM55.5 159.6h1.3v1.3h-1.3zM55.0 170.4h1.3v1.3h-1.3zM59.4 162.1h1.3v1.3h-1.3zM57.6 170.2h1.3v1.3h-1.3zM58.7 160.5h1.3v1.3h-1.3zM54.7 156.6h1.3v1.3h-1.3zM58.1 169.7h1.3v1.3h-1.3zM54.4 160.6h1.3v1.3h-1.3zM52.1 166.7h1.3v1.3h-1.3zM56.7 169.1h1.3v1.3h-1.3zM56.6 163.2h1.3v1.3h-1.3zM56.2 169.9h1.3v1.3h-1.3zM58.4 168.5h1.3v1.3h-1.3zM55.9 163.1h1.3v1.3h-1.3zM57.6 162.8h1.3v1.3h-1.3zM56.5 163.4h1.3v1.3h-1.3zM55.8 166.4h1.3v1.3h-1.3zM55.5 175.0h1.3v1.3h-1.3zM57.2 173.3h1.3v1.3h-1.3zM55.3 172.8h1.3v1.3h-1.3zM57.0 170.7h1.3v1.3h-1.3zM56.1 162.3h1.3v1.3h-1.3zM55.6 165.0h1.3v1.3h-1.3zM54.3 172.7h1.3v1.3h-1.3zM52.5 156.5h1.3v1.3h-1.3zM54.5 163.2h1.3v1.3h-1.3zM56.7 165.7h1.3v1.3h-1.3zM56.2 175.2h1.3v1.3h-1.3zM54.3 168.2h1.3v1.3h-1.3zM58.1 168.8h1.3v1.3h-1.3zM52.1 172.9h1.3v1.3h-1.3zM58.6 170.5h1.3v1.3h-1.3zM52.9 170.1h1.3v1.3h-1.3zM56.7 164.0h1.3v1.3h-1.3zM54.2 167.9h1.3v1.3h-1.3zM57.4 160.8h1.3v1.3h-1.3zM58.3 158.5h1.3v1.3h-1.3zM56.2 165.8h1.3v1.3h-1.3zM54.6 158.5h1.3v1.3h-1.3zM53.0 169.4h1.3v1.3h-1.3zM53.1 176.8h1.3v1.3h-1.3zM55.7 159.1h1.3v1.3h-1.3zM57.0 168.2h1.3v1.3h-1.3zM55.3 163.7h1.3v1.3h-1.3zM54.6 164.4h1.3v1.3h-1.3zM57.4 151.8h1.3v1.3h-1.3zM55.9 167.0h1.3v1.3h-1.3zM56.1 162.3h1.3v1.3h-1.3zM55.5 165.6h1.3v1.3h-1.3zM52.5 171.6h1.3v1.3h-1.3zM53.7 167.0h1.3v1.3h-1.3zM58.4 163.9h1.3v1.3h-1.3zM55.5 159.8h1.3v1.3h-1.3zM57.4 162.5h1.3v1.3h-1.3zM52.6 160.4h1.3v1.3h-1.3zM55.0 168.4h1.3v1.3h-1.3zM57.6 163.9h1.3v1.3h-1.3zM55.0 160.9h1.3v1.3h-1.3zM56.4 166.4h1.3v1.3h-1.3zM57.5 162.9h1.3v1.3h-1.3zM54.9 177.7h1.3v1.3h-1.3zM51.8 175.7h1.3v1.3h-1.3zM55.0 173.2h1.3v1.3h-1.3zM55.0 166.4h1.3v1.3h-1.3zM53.3 162.2h1.3v1.3h-1.3zM58.0 163.5h1.3v1.3h-1.3zM55.0 171.8h1.3v1.3h-1.3zM54.4 162.8h1.3v1.3h-1.3zM58.9 159.2h1.3v1.3h-1.3zM55.9 169.2h1.3v1.3h-1.3zM53.8 163.0h1.3v1.3h-1.3zM57.1 172.7h1.3v1.3h-1.3zM57.5 160.5h1.3v1.3h-1.3zM56.8 159.7h1.3v1.3h-1.3zM54.9 160.5h1.3v1.3h-1.3zM56.4 168.3h1.3v1.3h-1.3zM54.1 171.1h1.3v1.3h-1.3zM58.1 174.1h1.3v1.3h-1.3zM56.5 165.6h1.3v1.3h-1.3zM55.4 161.5h1.3v1.3h-1.3zM55.8 158.5h1.3v1.3h-1.3zM58.1 166.7h1.3v1.3h-1.3zM57.1 170.7h1.3v1.3h-1.3zM55.2 163.7h1.3v1.3h-1.3zM56.1 163.8h1.3v1.3h-1.3zM57.1 155.3h1.3v1.3h-1.3zM54.7 157.2h1.3v1.3h-1.3zM54.7 165.8h1.3v1.3h-1.3zM55.5 174.6h1.3v1.3h-1.3zM57.8 174.1h1.3v1.3h-1.3zM56.4 163.0h1.3v1.3h-1.3zM55.0 172.6h1.3v1.3h-1.3zM54.6 166.1h1.3v1.3h-1.3zM55.0 166.0h1.3v1.3h-1.3zM57.5 166.1h1.3v1.3h-1.3zM55.9 173.1h1.3v1.3h-1.3zM57.2 166.7h1.3v1.3h-1.3zM53.7 164.1h1.3v1.3h-1.3zM53.9 171.6h1.3v1.3h-1.3zM53.9 170.7h1.3v1.3h-1.3zM53.7 175.5h1.3v1.3h-1.3zM58.4 170.2h1.3v1.3h-1.3zM58.4 160.5h1.3v1.3h-1.3zM52.4 161.2h1.3v1.3h-1.3zM56.9 169.5h1.3v1.3h-1.3zM51.0 164.6h1.3v1.3h-1.3zM55.1 165.4h1.3v1.3h-1.3zM55.1 163.6h1.3v1.3h-1.3zM54.6 156.0h1.3v1.3h-1.3zM58.5 175.3h1.3v1.3h-1.3zM54.4 163.7h1.3v1.3h-1.3zM57.6 167.8h1.3v1.3h-1.3zM53.5 169.5h1.3v1.3h-1.3zM55.9 166.5h1.3v1.3h-1.3zM57.8 173.4h1.3v1.3h-1.3zM57.9 168.5h1.3v1.3h-1.3zM58.5 163.5h1.3v1.3h-1.3zM56.4 163.4h1.3v1.3h-1.3zM54.0 170.6h1.3v1.3h-1.3zM52.4 161.9h1.3v1.3h-1.3zM55.5 166.5h1.3v1.3h-1.3zM56.6 163.9h1.3v1.3h-1.3zM55.6 154.3h1.3v1.3h-1.3zM55.2 166.1h1.3v1.3h-1.3zM58.8 169.9h1.3v1.3h-1.3zM53.9 163.3h1.3v1.3h-1.3zM55.8 162.4h1.3v1.3h-1.3zM54.1 168.8h1.3v1.3h-1.3zM53.8 171.0h1.3v1.3h-1.3zM56.4 170.1h1.3v1.3h-1.3zM59.6 168.1h1.3v1.3h-1.3zM55.3 164.2h1.3v1.3h-1.3zM57.2 168.2h1.3v1.3h-1.3zM56.2 158.5h1.3v1.3h-1.3zM56.8 161.7h1.3v1.3h-1.3zM55.7 173.0h1.3v1.3h-1.3zM56.0 165.1h1.3v1.3h-1.3zM57.1 149.8h1.3v1.3h-1.3zM56.0 168.7h1.3v1.3h-1.3zM54.3 163.5h1.3v1.3h-1.3zM57.9 164.7h1.3v1.3h-1.3zM58.1 165.1h1.3v1.3h-1.3zM54.8 151.8h1.3v1.3h-1.3zM55.6 167.1h1.3v1.3h-1.3zM54.4 156.7h1.3v1.3h-1.3zM53.3 172.4h1.3v1.3h-1.3zM53.6 160.3h1.3v1.3h-1.3zM56.8 162.7h1.3v1.3h-1.3zM51.9 168.8h1.3v1.3h-1.3zM54.6 173.5h1.3v1.3h-1.3zM58.7 162.5h1.3v1.3h-1.3zM53.4 165.2h1.3v1.3h-1.3zM54.3 162.2h1.3v1.3h-1.3zM55.0 160.2h1.3v1.3h-1.3zM56.3 170.4h1.3v1.3h-1.3zM60.7 158.2h1.3v1.3h-1.3zM55.9 160.3h1.3v1.3h-1.3zM57.0 165.8h1.3v1.3h-1.3zM56.5 163.9h1.3v1.3h-1.3zM55.8 177.0h1.3v1.3h-1.3zM56.2 159.8h1.3v1.3h-1.3zM55.0 161.3h1.3v1.3h-1.3zM56.3 166.7h1.3v1.3h-1.3zM57.2 164.1h1.3v1.3h-1.3zM53.3 164.6h1.3v1.3h-1.3zM55.0 170.4h1.3v1.3h-1.3zM54.5 172.2h1.3v1.3h-1.3zM56.2 168.7h1.3v1.3h-1.3zM52.9 151.2h1.3v1.3h-1.3zM58.2 159.6h1.3v1.3h-1.3zM57.3 155.5h1.3v1.3h-1.3zM56.6 171.5h1.3v1.3h-1.3zM54.7 169.3h1.3v1.3h-1.3zM56.1 165.6h1.3v1.3h-1.3zM56.9 167.9h1.3v1.3h-1.3zM54.4 164.5h1.3v1.3h-1.3zM56.4 162.6h1.3v1.3h-1.3zM53.4 156.7h1.3v1.3h-1.3zM54.6 163.4h1.3v1.3h-1.3zM50.8 164.2h1.3v1.3h-1.3zM55.2 163.8h1.3v1.3h-1.3zM52.0 169.8h1.3v1.3h-1.3zM56.5 164.0h1.3v1.3h-1.3zM57.8 168.3h1.3v1.3h-1.3zM53.7 171.3h1.3v1.3h-1.3zM55.0 169.1h1.3v1.3h-1.3zM58.5 161.3h1.3v1.3h-1.3zM54.1 162.3h1.3v1.3h-1.3zM54.1 163.5h1.3v1.3h-1.3zM56.3 171.1h1.3v1.3h-1.3zM56.4 173.2h1.3v1.3h-1.3zM57.6 162.3h1.3v1.3h-1.3zM54.8 162.1h1.3v1.3h-1.3zM55.7 164.7h1.3v1.3h-1.3zM54.5 172.1h1.3v1.3h-1.3zM55.6 167.5h1.3v1.3h-1.3zM53.6 158.9h1.3v1.3h-1.3zM56.4 164.5h1.3v1.3h-1.3zM56.5 167.4h1.3v1.3h-1.3zM54.8 165.9h1.3v1.3h-1.3zM53.8 167.9h1.3v1.3h-1.3zM55.0 158.4h1.3v1.3h-1.3zM54.7 157.9h1.3v1.3h-1.3zM54.6 161.6h1.3v1.3h-1.3zM54.2 165.4h1.3v1.3h-1.3zM52.5 163.4h1.3v1.3h-1.3zM54.0 166.4h1.3v1.3h-1.3zM50.5 167.8h1.3v1.3h-1.3zM56.1 161.3h1.3v1.3h-1.3zM55.0 152.5h1.3v1.3h-1.3zM55.8 166.2h1.3v1.3h-1.3zM56.1 157.6h1.3v1.3h-1.3zM53.9 166.5h1.3v1.3h-1.3zM55.6 169.7h1.3v1.3h-1.3zM54.8 165.8h1.3v1.3h-1.3zM55.8 168.6h1.3v1.3h-1.3zM56.5 171.8h1.3v1.3h-1.3zM55.2 162.3h1.3v1.3h-1.3zM55.0 170.6h1.3v1.3h-1.3zM56.6 167.7h1.3v1.3h-1.3zM51.4 164.7h1.3v1.3h-1.3zM56.0 166.4h1.3v1.3h-1.3zM54.3 166.4h1.3v1.3h-1.3zM55.4 172.2h1.3v1.3h-1.3zM54.3 162.3h1.3v1.3h-1.3zM53.6 167.6h1.3v1.3h-1.3zM59.3 160.2h1.3v1.3h-1.3zM57.6 172.7h1.3v1.3h-1.3zM56.7 173.0h1.3v1.3h-1.3zM57.8 156.5h1.3v1.3h-1.3zM56.6 172.4h1.3v1.3h-1.3zM57.9 155.0h1.3v1.3h-1.3zM54.7 173.1h1.3v1.3h-1.3zM57.1 166.3h1.3v1.3h-1.3zM57.7 165.2h1.3v1.3h-1.3zM56.9 166.1h1.3v1.3h-1.3zM52.9 166.1h1.3v1.3h-1.3zM61.5 160.3h1.3v1.3h-1.3zM58.1 167.2h1.3v1.3h-1.3zM58.8 171.8h1.3v1.3h-1.3zM54.6 168.7h1.3v1.3h-1.3zM52.1 165.8h1.3v1.3h-1.3zM57.3 164.6h1.3v1.3h-1.3zM56.0 153.9h1.3v1.3h-1.3zM58.1 170.1h1.3v1.3h-1.3zM54.4 160.6h1.3v1.3h-1.3zM53.8 155.5h1.3v1.3h-1.3zM59.5 168.6h1.3v1.3h-1.3zM58.2 159.4h1.3v1.3h-1.3zM54.7 168.0h1.3v1.3h-1.3zM51.0 177.6h1.3v1.3h-1.3zM56.1 165.3h1.3v1.3h-1.3zM59.0 177.2h1.3v1.3h-1.3zM55.9 178.0h1.3v1.3h-1.3zM58.2 171.0h1.3v1.3h-1.3zM56.3 168.4h1.3v1.3h-1.3zM54.9 164.7h1.3v1.3h-1.3zM59.2 159.0h1.3v1.3h-1.3zM51.8 163.2h1.3v1.3h-1.3zM55.6 167.1h1.3v1.3h-1.3zM59.0 166.6h1.3v1.3h-1.3zM55.2 165.1h1.3v1.3h-1.3zM55.6 161.6h1.3v1.3h-1.3zM56.0 163.3h1.3v1.3h-1.3zM56.4 158.2h1.3v1.3h-1.3zM55.0 167.7h1.3v1.3h-1.3zM55.7 162.6h1.3v1.3h-1.3zM56.2 162.5h1.3v1.3h-1.3zM54.7 164.4h1.3v1.3h-1.3zM53.4 165.2h1.3v1.3h-1.3zM56.8 169.6h1.3v1.3h-1.3zM55.7 153.1h1.3v1.3h-1.3zM56.7 163.4h1.3v1.3h-1.3zM54.9 177.0h1.3v1.3h-1.3zM54.1 165.1h1.3v1.3h-1.3zM57.0 167.6h1.3v1.3h-1.3zM55.9 167.2h1.3v1.3h-1.3zM55.5 159.9h1.3v1.3h-1.3zM55.0 160.7h1.3v1.3h-1.3zM55.8 174.2h1.3v1.3h-1.3zM53.7 161.6h1.3v1.3h-1.3zM54.8 157.5h1.3v1.3h-1.3zM55.2 177.0h1.3v1.3h-1.3zM53.8 164.5h1.3v1.3h-1.3zM57.5 163.2h1.3v1.3h-1.3zM55.3 171.1h1.3v1.3h-1.3zM56.9 161.3h1.3v1.3h-1.3zM61.0 178.1h1.3v1.3h-1.3zM55.7 173.3h1.3v1.3h-1.3zM55.0 169.5h1.3v1.3h-1.3zM54.5 161.5h1.3v1.3h-1.3zM56.9 165.9h1.3v1.3h-1.3zM58.1 173.7h1.3v1.3h-1.3zM51.6 168.2h1.3v1.3h-1.3zM56.5 173.9h1.3v1.3h-1.3zM58.1 162.0h1.3v1.3h-1.3zM56.0 161.0h1.3v1.3h-1.3zM56.8 166.6h1.3v1.3h-1.3zM50.4 166.0h1.3v1.3h-1.3zM56.6 157.7h1.3v1.3h-1.3zM56.8 171.1h1.3v1.3h-1.3zM52.9 159.0h1.3v1.3h-1.3zM60.4 158.9h1.3v1.3h-1.3zM59.4 160.1h1.3v1.3h-1.3zM53.6 158.9h1.3v1.3h-1.3zM61.0 162.3h1.3v1.3h-1.3zM56.2 161.9h1.3v1.3h-1.3zM55.2 162.5h1.3v1.3h-1.3zM54.8 172.5h1.3v1.3h-1.3zM52.9 164.9h1.3v1.3h-1.3zM57.2 161.8h1.3v1.3h-1.3zM62.7 175.7h1.3v1.3h-1.3zM56.1 158.6h1.3v1.3h-1.3zM55.8 154.6h1.3v1.3h-1.3zM58.9 166.6h1.3v1.3h-1.3zM53.6 169.5h1.3v1.3h-1.3zM52.1 158.6h1.3v1.3h-1.3zM52.7 176.6h1.3v1.3h-1.3zM57.7 172.5h1.3v1.3h-1.3zM51.6 172.3h1.3v1.3h-1.3zM58.2 169.0h1.3v1.3h-1.3zM58.4 166.3h1.3v1.3h-1.3zM61.5 159.1h1.3v1.3h-1.3zM56.4 159.3h1.3v1.3h-1.3zM58.6 171.9h1.3v1.3h-1.3zM56.8 176.4h1.3v1.3h-1.3zM58.0 159.3h1.3v1.3h-1.3zM51.5 169.6h1.3v1.3h-1.3zM60.9 172.1h1.3v1.3h-1.3zM59.8 161.1h1.3v1.3h-1.3zM60.0 166.8h1.3v1.3h-1.3zM59.6 162.9h1.3v1.3h-1.3zM57.1 170.7h1.3v1.3h-1.3zM56.4 164.3h1.3v1.3h-1.3zM61.6 170.8h1.3v1.3h-1.3zM59.7 165.5h1.3v1.3h-1.3zM63.1 167.0h1.3v1.3h-1.3zM59.4 174.1h1.3v1.3h-1.3zM55.1 169.1h1.3v1.3h-1.3zM59.6 156.1h1.3v1.3h-1.3zM54.7 161.7h1.3v1.3h-1.3zM57.8 173.1h1.3v1.3h-1.3zM60.7 159.5h1.3v1.3h-1.3zM60.1 164.5h1.3v1.3h-1.3zM52.0 159.3h1.3v1.3h-1.3zM59.5 162.5h1.3v1.3h-1.3zM53.3 153.3h1.3v1.3h-1.3zM65.1 172.6h1.3v1.3h-1.3zM53.8 164.9h1.3v1.3h-1.3zM54.3 163.4h1.3v1.3h-1.3zM59.2 176.2h1.3v1.3h-1.3zM59.6 160.6h1.3v1.3h-1.3zM57.0 152.4h1.3v1.3h-1.3zM56.1 166.4h1.3v1.3h-1.3zM54.8 160.3h1.3v1.3h-1.3zM58.3 154.3h1.3v1.3h-1.3zM58.8 160.0h1.3v1.3h-1.3zM54.6 171.8h1.3v1.3h-1.3zM57.1 158.6h1.3v1.3h-1.3zM52.5 170.7h1.3v1.3h-1.3zM53.5 166.0h1.3v1.3h-1.3zM58.1 175.8h1.3v1.3h-1.3zM55.0 155.8h1.3v1.3h-1.3zM55.2 166.8h1.3v1.3h-1.3zM58.1 166.8h1.3v1.3h-1.3zM55.5 167.6h1.3v1.3h-1.3zM59.8 175.6h1.3v1.3h-1.3zM56.4 164.3h1.3v1.3h-1.3zM52.1 162.0h1.3v1.3h-1.3zM57.0 164.2h1.3v1.3h-1.3zM53.6 163.9h1.3v1.3h-1.3zM51.0 146.5h1.3v1.3h-1.3zM50.7 171.7h1.3v1.3h-1.3zM59.2 169.9h1.3v1.3h-1.3zM56.8 165.6h1.3v1.3h-1.3zM56.7 171.5h1.3v1.3h-1.3zM59.7 165.9h1.3v1.3h-1.3zM63.4 165.9h1.3v1.3h-1.3zM55.5 159.0h1.3v1.3h-1.3zM57.4 164.5h1.3v1.3h-1.3zM63.1 162.0h1.3v1.3h-1.3zM50.7 170.5h1.3v1.3h-1.3zM59.1 166.2h1.3v1.3h-1.3zM58.2 174.0h1.3v1.3h-1.3zM59.5 161.3h1.3v1.3h-1.3zM57.2 157.8h1.3v1.3h-1.3zM61.3 158.6h1.3v1.3h-1.3zM63.9 170.8h1.3v1.3h-1.3zM56.5 164.4h1.3v1.3h-1.3zM60.6 163.2h1.3v1.3h-1.3zM59.2 159.3h1.3v1.3h-1.3zM59.2 164.0h1.3v1.3h-1.3zM54.2 167.9h1.3v1.3h-1.3zM51.1 163.5h1.3v1.3h-1.3zM54.9 160.4h1.3v1.3h-1.3zM55.4 172.8h1.3v1.3h-1.3zM56.1 168.0h1.3v1.3h-1.3zM58.8 157.9h1.3v1.3h-1.3zM58.8 178.7h1.3v1.3h-1.3zM58.8 174.2h1.3v1.3h-1.3zM63.6 172.6h1.3v1.3h-1.3zM54.6 155.5h1.3v1.3h-1.3zM56.9 156.6h1.3v1.3h-1.3zM54.4 163.9h1.3v1.3h-1.3zM63.0 169.4h1.3v1.3h-1.3zM62.7 175.2h1.3v1.3h-1.3zM58.3 167.2h1.3v1.3h-1.3zM60.1 175.8h1.3v1.3h-1.3zM55.8 172.8h1.3v1.3h-1.3zM54.7 163.6h1.3v1.3h-1.3zM54.1 174.6h1.3v1.3h-1.3zM57.8 167.6h1.3v1.3h-1.3zM55.9 165.7h1.3v1.3h-1.3zM54.5 169.1h1.3v1.3h-1.3zM61.2 167.3h1.3v1.3h-1.3zM60.7 162.9h1.3v1.3h-1.3zM62.8 174.5h1.3v1.3h-1.3zM62.5 160.7h1.3v1.3h-1.3zM61.7 173.1h1.3v1.3h-1.3zM56.4 172.8h1.3v1.3h-1.3zM57.5 172.6h1.3v1.3h-1.3zM55.0 163.4h1.3v1.3h-1.3zM56.4 163.6h1.3v1.3h-1.3zM58.0 156.1h1.3v1.3h-1.3zM59.0 157.5h1.3v1.3h-1.3zM60.9 175.5h1.3v1.3h-1.3zM62.0 177.0h1.3v1.3h-1.3zM56.7 164.1h1.3v1.3h-1.3zM59.8 164.8h1.3v1.3h-1.3zM53.0 166.4h1.3v1.3h-1.3zM56.2 168.9h1.3v1.3h-1.3zM57.5 153.4h1.3v1.3h-1.3zM54.5 159.7h1.3v1.3h-1.3zM57.8 169.4h1.3v1.3h-1.3zM63.8 164.5h1.3v1.3h-1.3zM54.9 169.0h1.3v1.3h-1.3zM56.5 167.8h1.3v1.3h-1.3zM51.8 152.5h1.3v1.3h-1.3zM63.4 157.6h1.3v1.3h-1.3zM56.0 165.2h1.3v1.3h-1.3zM60.0 162.8h1.3v1.3h-1.3zM62.3 166.5h1.3v1.3h-1.3zM62.1 171.3h1.3v1.3h-1.3zM58.0 165.6h1.3v1.3h-1.3zM56.3 163.6h1.3v1.3h-1.3zM55.0 155.5h1.3v1.3h-1.3zM54.8 160.4h1.3v1.3h-1.3zM57.7 174.0h1.3v1.3h-1.3zM59.6 174.0h1.3v1.3h-1.3zM60.0 172.1h1.3v1.3h-1.3zM59.4 162.6h1.3v1.3h-1.3zM55.2 164.3h1.3v1.3h-1.3zM63.7 173.8h1.3v1.3h-1.3zM62.4 160.2h1.3v1.3h-1.3zM54.2 171.6h1.3v1.3h-1.3zM58.0 168.1h1.3v1.3h-1.3zM55.7 168.7h1.3v1.3h-1.3zM56.9 158.3h1.3v1.3h-1.3zM59.3 171.7h1.3v1.3h-1.3zM60.4 170.5h1.3v1.3h-1.3zM56.7 160.1h1.3v1.3h-1.3zM60.0 168.5h1.3v1.3h-1.3zM58.5 167.3h1.3v1.3h-1.3zM63.5 167.2h1.3v1.3h-1.3zM56.8 152.7h1.3v1.3h-1.3zM57.6 163.0h1.3v1.3h-1.3zM52.7 168.5h1.3v1.3h-1.3zM54.6 164.6h1.3v1.3h-1.3zM54.9 166.4h1.3v1.3h-1.3zM57.7 166.2h1.3v1.3h-1.3zM59.3 160.2h1.3v1.3h-1.3zM63.6 162.8h1.3v1.3h-1.3zM59.0 173.7h1.3v1.3h-1.3zM61.3 167.2h1.3v1.3h-1.3zM51.8 168.5h1.3v1.3h-1.3zM57.8 170.9h1.3v1.3h-1.3zM51.4 151.3h1.3v1.3h-1.3zM58.0 175.1h1.3v1.3h-1.3zM51.2 162.1h1.3v1.3h-1.3zM61.9 159.9h1.3v1.3h-1.3zM58.6 152.1h1.3v1.3h-1.3zM57.4 160.9h1.3v1.3h-1.3zM57.6 164.0h1.3v1.3h-1.3zM62.2 166.7h1.3v1.3h-1.3zM55.1 164.7h1.3v1.3h-1.3zM58.4 164.4h1.3v1.3h-1.3zM59.1 167.8h1.3v1.3h-1.3zM64.7 157.7h1.3v1.3h-1.3zM56.8 177.9h1.3v1.3h-1.3zM57.3 158.8h1.3v1.3h-1.3zM49.8 168.9h1.3v1.3h-1.3zM52.2 166.4h1.3v1.3h-1.3zM61.2 169.2h1.3v1.3h-1.3zM52.1 172.8h1.3v1.3h-1.3zM59.7 175.0h1.3v1.3h-1.3zM58.4 164.1h1.3v1.3h-1.3zM63.9 180.2h1.3v1.3h-1.3zM59.8 179.5h1.3v1.3h-1.3zM63.0 174.9h1.3v1.3h-1.3zM63.7 178.4h1.3v1.3h-1.3zM62.3 176.5h1.3v1.3h-1.3zM57.3 179.4h1.3v1.3h-1.3zM62.1 176.5h1.3v1.3h-1.3zM61.5 179.3h1.3v1.3h-1.3zM63.2 180.3h1.3v1.3h-1.3zM61.2 180.7h1.3v1.3h-1.3zM64.7 180.1h1.3v1.3h-1.3zM59.8 186.9h1.3v1.3h-1.3zM60.1 183.1h1.3v1.3h-1.3zM57.9 181.7h1.3v1.3h-1.3zM53.7 181.5h1.3v1.3h-1.3zM58.1 176.8h1.3v1.3h-1.3zM56.0 184.4h1.3v1.3h-1.3zM61.0 176.8h1.3v1.3h-1.3zM64.7 179.1h1.3v1.3h-1.3zM58.9 181.9h1.3v1.3h-1.3zM56.8 176.5h1.3v1.3h-1.3zM57.8 184.6h1.3v1.3h-1.3zM62.4 176.6h1.3v1.3h-1.3zM63.1 181.2h1.3v1.3h-1.3zM61.2 181.3h1.3v1.3h-1.3zM61.0 178.3h1.3v1.3h-1.3zM57.4 179.1h1.3v1.3h-1.3zM58.9 182.9h1.3v1.3h-1.3zM56.6 185.8h1.3v1.3h-1.3zM58.1 179.5h1.3v1.3h-1.3zM61.7 182.4h1.3v1.3h-1.3zM58.9 178.1h1.3v1.3h-1.3zM57.2 176.5h1.3v1.3h-1.3zM62.9 184.3h1.3v1.3h-1.3zM64.9 182.6h1.3v1.3h-1.3zM60.7 183.3h1.3v1.3h-1.3zM62.4 180.4h1.3v1.3h-1.3zM60.8 187.4h1.3v1.3h-1.3zM55.3 177.1h1.3v1.3h-1.3zM57.3 183.3h1.3v1.3h-1.3zM63.1 180.2h1.3v1.3h-1.3zM61.7 181.0h1.3v1.3h-1.3zM60.7 179.6h1.3v1.3h-1.3zM59.8 181.1h1.3v1.3h-1.3zM62.9 187.6h1.3v1.3h-1.3zM55.0 182.7h1.3v1.3h-1.3zM59.8 183.9h1.3v1.3h-1.3zM62.7 183.4h1.3v1.3h-1.3zM62.0 178.4h1.3v1.3h-1.3zM55.3 186.0h1.3v1.3h-1.3zM63.1 178.4h1.3v1.3h-1.3zM63.3 183.1h1.3v1.3h-1.3zM53.2 183.7h1.3v1.3h-1.3zM57.2 184.5h1.3v1.3h-1.3zM58.0 179.0h1.3v1.3h-1.3zM55.7 180.5h1.3v1.3h-1.3zM62.6 179.2h1.3v1.3h-1.3zM54.8 187.3h1.3v1.3h-1.3zM64.8 183.1h1.3v1.3h-1.3zM58.4 177.6h1.3v1.3h-1.3zM55.4 182.8h1.3v1.3h-1.3zM63.4 178.1h1.3v1.3h-1.3zM59.8 180.3h1.3v1.3h-1.3zM59.2 182.6h1.3v1.3h-1.3zM65.5 179.3h1.3v1.3h-1.3zM62.1 184.3h1.3v1.3h-1.3zM59.1 180.7h1.3v1.3h-1.3zM56.2 184.3h1.3v1.3h-1.3zM58.4 179.3h1.3v1.3h-1.3zM60.0 178.7h1.3v1.3h-1.3zM57.0 180.3h1.3v1.3h-1.3zM63.9 180.6h1.3v1.3h-1.3zM61.3 176.9h1.3v1.3h-1.3zM54.6 186.4h1.3v1.3h-1.3zM58.8 176.7h1.3v1.3h-1.3zM59.6 182.9h1.3v1.3h-1.3zM55.2 178.6h1.3v1.3h-1.3zM60.6 178.5h1.3v1.3h-1.3zM62.0 183.9h1.3v1.3h-1.3zM61.0 179.9h1.3v1.3h-1.3zM59.7 179.3h1.3v1.3h-1.3zM59.5 182.1h1.3v1.3h-1.3zM59.0 184.0h1.3v1.3h-1.3zM66.9 179.6h1.3v1.3h-1.3zM60.8 183.5h1.3v1.3h-1.3zM61.6 180.5h1.3v1.3h-1.3zM58.6 184.1h1.3v1.3h-1.3zM61.5 182.6h1.3v1.3h-1.3zM57.7 183.0h1.3v1.3h-1.3zM62.0 180.6h1.3v1.3h-1.3zM61.6 187.4h1.3v1.3h-1.3zM54.8 182.9h1.3v1.3h-1.3zM56.7 177.2h1.3v1.3h-1.3zM59.2 182.7h1.3v1.3h-1.3zM60.0 177.8h1.3v1.3h-1.3zM56.0 179.5h1.3v1.3h-1.3zM59.9 178.7h1.3v1.3h-1.3zM55.8 186.2h1.3v1.3h-1.3zM57.6 180.7h1.3v1.3h-1.3zM58.4 179.5h1.3v1.3h-1.3zM60.0 180.3h1.3v1.3h-1.3zM61.5 177.7h1.3v1.3h-1.3zM55.8 186.8h1.3v1.3h-1.3zM59.6 183.4h1.3v1.3h-1.3zM63.0 182.8h1.3v1.3h-1.3zM59.9 176.6h1.3v1.3h-1.3zM55.5 184.0h1.3v1.3h-1.3zM61.7 182.8h1.3v1.3h-1.3zM55.4 175.0h1.3v1.3h-1.3zM57.0 177.7h1.3v1.3h-1.3zM60.3 178.2h1.3v1.3h-1.3zM64.1 179.3h1.3v1.3h-1.3zM58.3 183.7h1.3v1.3h-1.3zM60.7 178.5h1.3v1.3h-1.3zM62.1 186.7h1.3v1.3h-1.3zM56.5 180.4h1.3v1.3h-1.3zM56.9 175.5h1.3v1.3h-1.3zM61.6 183.2h1.3v1.3h-1.3zM62.5 182.4h1.3v1.3h-1.3zM54.4 181.1h1.3v1.3h-1.3zM58.0 177.7h1.3v1.3h-1.3zM56.8 183.4h1.3v1.3h-1.3zM59.0 186.9h1.3v1.3h-1.3zM61.1 175.6h1.3v1.3h-1.3zM62.3 184.8h1.3v1.3h-1.3zM59.9 177.6h1.3v1.3h-1.3zM64.7 177.3h1.3v1.3h-1.3zM59.6 175.6h1.3v1.3h-1.3zM56.4 176.2h1.3v1.3h-1.3zM62.8 184.6h1.3v1.3h-1.3zM58.7 177.2h1.3v1.3h-1.3zM59.7 182.3h1.3v1.3h-1.3zM55.7 177.8h1.3v1.3h-1.3zM59.6 183.2h1.3v1.3h-1.3zM60.1 182.5h1.3v1.3h-1.3zM56.4 173.9h1.3v1.3h-1.3zM60.7 178.5h1.3v1.3h-1.3zM59.5 180.0h1.3v1.3h-1.3zM61.2 178.9h1.3v1.3h-1.3zM63.8 181.2h1.3v1.3h-1.3zM61.3 183.0h1.3v1.3h-1.3zM62.7 182.3h1.3v1.3h-1.3zM55.1 179.3h1.3v1.3h-1.3zM64.9 182.5h1.3v1.3h-1.3zM61.4 182.5h1.3v1.3h-1.3zM58.1 179.2h1.3v1.3h-1.3zM58.1 184.5h1.3v1.3h-1.3zM60.8 186.4h1.3v1.3h-1.3zM61.2 186.7h1.3v1.3h-1.3zM61.1 177.7h1.3v1.3h-1.3zM58.6 104.0h1.3v1.3h-1.3zM57.4 130.1h1.3v1.3h-1.3zM61.0 125.7h1.3v1.3h-1.3zM58.9 142.2h1.3v1.3h-1.3zM55.6 134.5h1.3v1.3h-1.3zM59.5 134.7h1.3v1.3h-1.3zM63.4 114.8h1.3v1.3h-1.3zM52.0 146.6h1.3v1.3h-1.3zM54.2 155.2h1.3v1.3h-1.3zM64.4 106.3h1.3v1.3h-1.3zM59.7 128.6h1.3v1.3h-1.3zM59.6 139.9h1.3v1.3h-1.3zM55.7 141.3h1.3v1.3h-1.3zM58.9 112.8h1.3v1.3h-1.3zM57.8 124.5h1.3v1.3h-1.3zM59.1 142.8h1.3v1.3h-1.3zM56.5 130.7h1.3v1.3h-1.3zM58.3 141.1h1.3v1.3h-1.3zM58.0 113.2h1.3v1.3h-1.3zM60.6 140.9h1.3v1.3h-1.3zM57.3 155.9h1.3v1.3h-1.3zM51.8 152.9h1.3v1.3h-1.3zM57.5 142.1h1.3v1.3h-1.3zM57.5 113.7h1.3v1.3h-1.3zM60.9 103.1h1.3v1.3h-1.3zM55.0 137.0h1.3v1.3h-1.3zM57.4 116.9h1.3v1.3h-1.3zM58.9 137.1h1.3v1.3h-1.3zM57.1 156.9h1.3v1.3h-1.3zM59.0 112.0h1.3v1.3h-1.3zM61.5 121.9h1.3v1.3h-1.3zM55.5 127.4h1.3v1.3h-1.3zM59.5 108.0h1.3v1.3h-1.3zM58.4 145.1h1.3v1.3h-1.3zM63.0 128.3h1.3v1.3h-1.3zM57.3 146.1h1.3v1.3h-1.3zM58.5 128.5h1.3v1.3h-1.3zM57.3 108.3h1.3v1.3h-1.3zM56.3 133.3h1.3v1.3h-1.3zM58.2 116.2h1.3v1.3h-1.3zM61.6 103.5h1.3v1.3h-1.3zM55.5 154.3h1.3v1.3h-1.3zM53.9 156.3h1.3v1.3h-1.3zM59.5 123.5h1.3v1.3h-1.3zM58.2 147.0h1.3v1.3h-1.3zM57.5 103.1h1.3v1.3h-1.3zM56.4 114.1h1.3v1.3h-1.3zM57.4 102.9h1.3v1.3h-1.3zM58.1 148.0h1.3v1.3h-1.3zM56.0 104.7h1.3v1.3h-1.3zM56.6 151.2h1.3v1.3h-1.3zM58.0 120.1h1.3v1.3h-1.3zM59.8 136.7h1.3v1.3h-1.3zM56.0 137.5h1.3v1.3h-1.3zM58.5 113.7h1.3v1.3h-1.3zM63.1 123.4h1.3v1.3h-1.3zM57.4 108.1h1.3v1.3h-1.3zM57.7 113.3h1.3v1.3h-1.3zM55.2 127.5h1.3v1.3h-1.3zM56.0 141.2h1.3v1.3h-1.3zM61.4 126.5h1.3v1.3h-1.3zM60.0 105.3h1.3v1.3h-1.3zM55.2 128.2h1.3v1.3h-1.3zM59.7 141.6h1.3v1.3h-1.3zM56.2 115.5h1.3v1.3h-1.3zM55.1 128.3h1.3v1.3h-1.3zM61.0 110.1h1.3v1.3h-1.3zM56.8 105.8h1.3v1.3h-1.3zM59.9 115.5h1.3v1.3h-1.3zM57.9 123.9h1.3v1.3h-1.3zM59.1 145.7h1.3v1.3h-1.3zM54.7 143.1h1.3v1.3h-1.3zM63.7 104.5h1.3v1.3h-1.3zM61.1 146.5h1.3v1.3h-1.3zM60.1 104.4h1.3v1.3h-1.3zM57.9 153.5h1.3v1.3h-1.3zM55.8 114.4h1.3v1.3h-1.3zM53.1 137.5h1.3v1.3h-1.3zM57.3 152.9h1.3v1.3h-1.3zM59.9 103.4h1.3v1.3h-1.3zM62.6 144.0h1.3v1.3h-1.3zM61.5 141.4h1.3v1.3h-1.3zM58.8 112.6h1.3v1.3h-1.3zM56.7 130.5h1.3v1.3h-1.3zM59.5 108.2h1.3v1.3h-1.3zM52.8 152.7h1.3v1.3h-1.3zM60.3 102.5h1.3v1.3h-1.3zM55.2 147.5h1.3v1.3h-1.3zM55.7 130.0h1.3v1.3h-1.3zM55.5 146.3h1.3v1.3h-1.3zM61.2 106.6h1.3v1.3h-1.3zM59.2 118.4h1.3v1.3h-1.3zM61.9 124.2h1.3v1.3h-1.3zM58.7 103.7h1.3v1.3h-1.3zM58.5 148.0h1.3v1.3h-1.3zM56.0 109.1h1.3v1.3h-1.3zM58.4 138.1h1.3v1.3h-1.3zM60.8 108.4h1.3v1.3h-1.3zM55.3 156.1h1.3v1.3h-1.3zM57.8 107.5h1.3v1.3h-1.3zM60.3 142.5h1.3v1.3h-1.3zM54.8 107.9h1.3v1.3h-1.3zM56.8 122.6h1.3v1.3h-1.3zM62.1 110.5h1.3v1.3h-1.3zM61.7 135.7h1.3v1.3h-1.3zM58.0 102.7h1.3v1.3h-1.3zM61.1 106.5h1.3v1.3h-1.3zM60.1 135.3h1.3v1.3h-1.3zM55.7 131.0h1.3v1.3h-1.3zM58.5 136.0h1.3v1.3h-1.3zM61.0 138.0h1.3v1.3h-1.3zM55.7 146.2h1.3v1.3h-1.3zM59.4 152.6h1.3v1.3h-1.3zM55.4 104.0h1.3v1.3h-1.3zM59.2 139.8h1.3v1.3h-1.3zM55.5 150.6h1.3v1.3h-1.3zM60.7 112.2h1.3v1.3h-1.3zM56.8 141.2h1.3v1.3h-1.3zM57.6 116.2h1.3v1.3h-1.3zM60.2 120.2h1.3v1.3h-1.3zM52.4 107.6h1.3v1.3h-1.3zM60.0 138.3h1.3v1.3h-1.3zM57.8 153.6h1.3v1.3h-1.3zM53.0 157.0h1.3v1.3h-1.3zM57.4 143.7h1.3v1.3h-1.3zM59.8 125.0h1.3v1.3h-1.3zM59.1 103.5h1.3v1.3h-1.3zM62.2 153.0h1.3v1.3h-1.3zM58.7 120.4h1.3v1.3h-1.3zM53.5 151.3h1.3v1.3h-1.3zM56.5 146.1h1.3v1.3h-1.3zM57.3 147.7h1.3v1.3h-1.3zM56.6 119.6h1.3v1.3h-1.3zM56.3 131.9h1.3v1.3h-1.3zM58.9 155.5h1.3v1.3h-1.3zM60.2 138.1h1.3v1.3h-1.3zM60.1 132.0h1.3v1.3h-1.3zM56.6 152.6h1.3v1.3h-1.3zM58.7 140.3h1.3v1.3h-1.3zM58.1 114.0h1.3v1.3h-1.3zM58.5 118.2h1.3v1.3h-1.3zM58.0 116.7h1.3v1.3h-1.3zM59.1 141.7h1.3v1.3h-1.3zM57.9 126.4h1.3v1.3h-1.3zM56.3 140.1h1.3v1.3h-1.3zM54.1 143.8h1.3v1.3h-1.3zM58.2 116.0h1.3v1.3h-1.3zM58.3 140.4h1.3v1.3h-1.3zM57.9 113.9h1.3v1.3h-1.3zM63.7 137.7h1.3v1.3h-1.3zM56.1 134.9h1.3v1.3h-1.3zM55.1 140.6h1.3v1.3h-1.3zM59.0 119.1h1.3v1.3h-1.3zM58.9 103.1h1.3v1.3h-1.3zM58.8 122.2h1.3v1.3h-1.3zM58.8 129.5h1.3v1.3h-1.3zM56.7 155.7h1.3v1.3h-1.3zM55.9 144.7h1.3v1.3h-1.3zM59.9 112.1h1.3v1.3h-1.3zM59.2 124.8h1.3v1.3h-1.3zM54.2 140.3h1.3v1.3h-1.3zM59.7 107.6h1.3v1.3h-1.3zM55.0 153.6h1.3v1.3h-1.3zM62.1 104.0h1.3v1.3h-1.3zM58.2 147.9h1.3v1.3h-1.3zM62.1 146.5h1.3v1.3h-1.3zM57.7 139.2h1.3v1.3h-1.3zM58.6 112.8h1.3v1.3h-1.3zM59.3 152.1h1.3v1.3h-1.3zM60.7 134.6h1.3v1.3h-1.3zM58.3 138.7h1.3v1.3h-1.3zM59.6 107.7h1.3v1.3h-1.3zM54.9 156.4h1.3v1.3h-1.3zM60.1 133.7h1.3v1.3h-1.3zM58.6 114.6h1.3v1.3h-1.3zM57.7 149.2h1.3v1.3h-1.3zM60.5 109.5h1.3v1.3h-1.3zM57.2 142.1h1.3v1.3h-1.3zM58.8 110.0h1.3v1.3h-1.3zM56.4 122.5h1.3v1.3h-1.3zM59.3 131.1h1.3v1.3h-1.3zM58.7 146.1h1.3v1.3h-1.3zM55.3 118.0h1.3v1.3h-1.3zM60.9 114.7h1.3v1.3h-1.3zM58.8 113.0h1.3v1.3h-1.3zM60.3 122.4h1.3v1.3h-1.3zM53.2 137.6h1.3v1.3h-1.3zM59.3 105.1h1.3v1.3h-1.3zM58.6 138.8h1.3v1.3h-1.3zM57.1 104.0h1.3v1.3h-1.3zM59.9 126.5h1.3v1.3h-1.3zM59.4 141.5h1.3v1.3h-1.3zM60.4 107.5h1.3v1.3h-1.3zM60.1 111.9h1.3v1.3h-1.3zM57.2 115.0h1.3v1.3h-1.3zM58.9 106.1h1.3v1.3h-1.3zM52.8 122.2h1.3v1.3h-1.3zM58.9 132.9h1.3v1.3h-1.3zM59.1 106.3h1.3v1.3h-1.3zM61.6 133.3h1.3v1.3h-1.3zM61.9 150.2h1.3v1.3h-1.3zM57.4 108.4h1.3v1.3h-1.3zM55.7 154.3h1.3v1.3h-1.3zM58.1 111.7h1.3v1.3h-1.3zM57.7 149.9h1.3v1.3h-1.3zM59.2 116.9h1.3v1.3h-1.3zM53.8 153.2h1.3v1.3h-1.3zM59.4 106.4h1.3v1.3h-1.3zM57.4 127.3h1.3v1.3h-1.3zM59.2 138.8h1.3v1.3h-1.3zM63.0 122.2h1.3v1.3h-1.3zM62.5 128.8h1.3v1.3h-1.3zM61.7 112.2h1.3v1.3h-1.3zM58.2 130.7h1.3v1.3h-1.3zM54.8 103.7h1.3v1.3h-1.3zM58.6 131.9h1.3v1.3h-1.3zM55.1 115.2h1.3v1.3h-1.3zM57.8 138.2h1.3v1.3h-1.3zM60.2 110.3h1.3v1.3h-1.3zM52.4 143.1h1.3v1.3h-1.3zM54.2 149.5h1.3v1.3h-1.3zM62.0 112.3h1.3v1.3h-1.3zM54.2 114.8h1.3v1.3h-1.3zM55.6 106.9h1.3v1.3h-1.3zM60.7 114.3h1.3v1.3h-1.3zM58.9 110.1h1.3v1.3h-1.3zM58.3 112.9h1.3v1.3h-1.3zM54.4 154.0h1.3v1.3h-1.3zM57.9 124.5h1.3v1.3h-1.3zM57.1 154.5h1.3v1.3h-1.3zM55.5 115.2h1.3v1.3h-1.3zM57.8 154.5h1.3v1.3h-1.3zM61.2 129.4h1.3v1.3h-1.3zM58.1 114.3h1.3v1.3h-1.3zM60.2 148.2h1.3v1.3h-1.3zM66.7 127.5h1.3v1.3h-1.3zM60.2 114.8h1.3v1.3h-1.3zM57.6 124.7h1.3v1.3h-1.3zM57.9 121.2h1.3v1.3h-1.3zM57.7 122.9h1.3v1.3h-1.3zM58.4 111.3h1.3v1.3h-1.3zM57.8 135.8h1.3v1.3h-1.3zM55.4 116.5h1.3v1.3h-1.3zM58.5 141.5h1.3v1.3h-1.3zM58.5 109.9h1.3v1.3h-1.3zM58.6 155.2h1.3v1.3h-1.3zM60.2 110.6h1.3v1.3h-1.3zM60.0 134.3h1.3v1.3h-1.3zM59.1 151.1h1.3v1.3h-1.3zM58.9 111.6h1.3v1.3h-1.3zM55.6 134.6h1.3v1.3h-1.3zM58.2 151.2h1.3v1.3h-1.3zM61.4 138.7h1.3v1.3h-1.3zM53.8 117.1h1.3v1.3h-1.3zM56.8 154.2h1.3v1.3h-1.3zM57.9 152.7h1.3v1.3h-1.3zM60.3 108.1h1.3v1.3h-1.3zM58.4 118.2h1.3v1.3h-1.3zM59.0 155.5h1.3v1.3h-1.3zM56.2 131.5h1.3v1.3h-1.3zM58.7 149.0h1.3v1.3h-1.3zM54.8 130.6h1.3v1.3h-1.3zM58.5 108.8h1.3v1.3h-1.3zM61.2 134.6h1.3v1.3h-1.3zM62.3 146.4h1.3v1.3h-1.3zM54.8 112.9h1.3v1.3h-1.3zM60.8 106.5h1.3v1.3h-1.3zM56.5 112.3h1.3v1.3h-1.3zM57.7 140.4h1.3v1.3h-1.3zM59.8 122.5h1.3v1.3h-1.3zM57.5 131.2h1.3v1.3h-1.3zM56.9 143.1h1.3v1.3h-1.3zM54.4 136.7h1.3v1.3h-1.3zM58.2 146.3h1.3v1.3h-1.3zM55.1 102.9h1.3v1.3h-1.3zM58.2 141.4h1.3v1.3h-1.3zM60.2 138.0h1.3v1.3h-1.3zM62.9 145.6h1.3v1.3h-1.3zM53.0 115.2h1.3v1.3h-1.3zM60.7 113.7h1.3v1.3h-1.3zM62.9 124.9h1.3v1.3h-1.3zM57.1 115.1h1.3v1.3h-1.3zM55.5 142.8h1.3v1.3h-1.3zM60.2 144.5h1.3v1.3h-1.3zM58.7 109.4h1.3v1.3h-1.3zM59.8 117.0h1.3v1.3h-1.3zM60.0 104.3h1.3v1.3h-1.3zM59.8 125.5h1.3v1.3h-1.3zM53.7 106.6h1.3v1.3h-1.3zM55.1 134.1h1.3v1.3h-1.3zM57.4 121.9h1.3v1.3h-1.3zM56.0 112.0h1.3v1.3h-1.3zM61.4 128.8h1.3v1.3h-1.3zM58.7 111.2h1.3v1.3h-1.3zM61.9 122.7h1.3v1.3h-1.3zM56.6 148.3h1.3v1.3h-1.3zM55.4 137.7h1.3v1.3h-1.3zM54.7 155.5h1.3v1.3h-1.3zM58.5 113.1h1.3v1.3h-1.3zM56.3 116.4h1.3v1.3h-1.3zM54.0 147.5h1.3v1.3h-1.3zM54.8 150.5h1.3v1.3h-1.3zM58.0 134.7h1.3v1.3h-1.3zM58.3 131.8h1.3v1.3h-1.3zM57.6 142.3h1.3v1.3h-1.3zM59.4 102.6h1.3v1.3h-1.3zM58.3 111.9h1.3v1.3h-1.3zM58.1 115.0h1.3v1.3h-1.3zM56.6 116.9h1.3v1.3h-1.3zM51.9 103.4h1.3v1.3h-1.3zM64.0 108.6h1.3v1.3h-1.3zM55.9 110.5h1.3v1.3h-1.3zM56.1 120.8h1.3v1.3h-1.3zM57.8 125.3h1.3v1.3h-1.3zM57.9 128.7h1.3v1.3h-1.3zM59.2 107.0h1.3v1.3h-1.3zM61.1 111.3h1.3v1.3h-1.3zM59.5 140.7h1.3v1.3h-1.3zM59.2 116.8h1.3v1.3h-1.3zM54.6 121.1h1.3v1.3h-1.3zM60.0 129.4h1.3v1.3h-1.3zM62.8 133.2h1.3v1.3h-1.3zM60.5 105.2h1.3v1.3h-1.3zM61.0 123.5h1.3v1.3h-1.3zM58.2 141.8h1.3v1.3h-1.3zM61.7 146.5h1.3v1.3h-1.3zM57.2 107.5h1.3v1.3h-1.3zM56.9 141.3h1.3v1.3h-1.3zM58.0 146.6h1.3v1.3h-1.3zM56.8 107.5h1.3v1.3h-1.3zM56.6 138.8h1.3v1.3h-1.3zM57.8 112.9h1.3v1.3h-1.3zM60.4 134.4h1.3v1.3h-1.3zM60.3 115.6h1.3v1.3h-1.3zM55.7 116.6h1.3v1.3h-1.3zM59.0 142.2h1.3v1.3h-1.3zM58.3 104.0h1.3v1.3h-1.3zM56.6 118.3h1.3v1.3h-1.3zM56.6 137.5h1.3v1.3h-1.3zM54.5 152.0h1.3v1.3h-1.3zM49.4 12.1h1.3v1.3h-1.3zM57.9 12.1h1.3v1.3h-1.3zM48.5 12.0h1.3v1.3h-1.3zM59.9 12.5h1.3v1.3h-1.3zM58.9 12.6h1.3v1.3h-1.3zM60.3 12.1h1.3v1.3h-1.3zM51.4 12.4h1.3v1.3h-1.3zM46.6 12.3h1.3v1.3h-1.3zM47.2 11.9h1.3v1.3h-1.3zM55.1 12.0h1.3v1.3h-1.3zM62.9 12.6h1.3v1.3h-1.3zM54.1 12.0h1.3v1.3h-1.3zM47.8 12.3h1.3v1.3h-1.3zM55.2 12.1h1.3v1.3h-1.3zM58.9 12.3h1.3v1.3h-1.3zM60.0 11.9h1.3v1.3h-1.3zM46.9 12.2h1.3v1.3h-1.3zM54.5 12.1h1.3v1.3h-1.3zM58.0 12.0h1.3v1.3h-1.3zM51.5 12.2h1.3v1.3h-1.3zM58.8 12.5h1.3v1.3h-1.3zM52.5 12.2h1.3v1.3h-1.3zM62.8 12.6h1.3v1.3h-1.3zM57.1 11.9h1.3v1.3h-1.3zM54.0 12.4h1.3v1.3h-1.3zM50.7 11.9h1.3v1.3h-1.3zM63.8 12.6h1.3v1.3h-1.3zM47.9 12.2h1.3v1.3h-1.3zM57.1 12.1h1.3v1.3h-1.3zM46.8 12.5h1.3v1.3h-1.3zM59.9 12.2h1.3v1.3h-1.3zM47.1 12.2h1.3v1.3h-1.3zM47.3 12.6h1.3v1.3h-1.3zM46.5 12.1h1.3v1.3h-1.3zM59.8 12.0h1.3v1.3h-1.3zM47.5 11.9h1.3v1.3h-1.3zM48.1 26.9h1.3v1.3h-1.3zM57.6 76.6h1.3v1.3h-1.3zM58.0 93.4h1.3v1.3h-1.3zM58.7 98.1h1.3v1.3h-1.3zM59.2 77.7h1.3v1.3h-1.3zM60.6 86.0h1.3v1.3h-1.3zM60.0 47.8h1.3v1.3h-1.3zM54.1 21.6h1.3v1.3h-1.3zM50.7 42.9h1.3v1.3h-1.3zM61.8 101.2h1.3v1.3h-1.3zM61.2 40.5h1.3v1.3h-1.3zM46.9 72.2h1.3v1.3h-1.3zM59.7 64.5h1.3v1.3h-1.3zM59.4 32.7h1.3v1.3h-1.3zM57.0 39.4h1.3v1.3h-1.3zM52.5 98.1h1.3v1.3h-1.3zM63.9 86.6h1.3v1.3h-1.3zM50.3 27.5h1.3v1.3h-1.3zM61.1 46.7h1.3v1.3h-1.3zM61.3 42.6h1.3v1.3h-1.3zM62.0 43.4h1.3v1.3h-1.3zM54.0 24.6h1.3v1.3h-1.3zM58.5 79.9h1.3v1.3h-1.3zM58.4 91.5h1.3v1.3h-1.3zM52.0 53.5h1.3v1.3h-1.3zM54.6 78.6h1.3v1.3h-1.3zM45.8 17.7h1.3v1.3h-1.3zM46.3 18.3h1.3v1.3h-1.3zM57.9 90.5h1.3v1.3h-1.3zM61.7 46.4h1.3v1.3h-1.3zM58.1 93.0h1.3v1.3h-1.3zM61.1 88.6h1.3v1.3h-1.3zM51.1 44.1h1.3v1.3h-1.3zM44.3 93.8h1.3v1.3h-1.3zM59.6 92.4h1.3v1.3h-1.3zM61.3 45.1h1.3v1.3h-1.3zM54.8 75.5h1.3v1.3h-1.3zM50.4 14.0h1.3v1.3h-1.3zM59.5 59.8h1.3v1.3h-1.3zM56.2 32.2h1.3v1.3h-1.3zM64.8 85.2h1.3v1.3h-1.3zM56.7 51.5h1.3v1.3h-1.3zM48.4 30.3h1.3v1.3h-1.3zM55.4 73.0h1.3v1.3h-1.3zM54.2 28.6h1.3v1.3h-1.3zM57.7 91.3h1.3v1.3h-1.3zM61.9 96.4h1.3v1.3h-1.3zM59.4 94.1h1.3v1.3h-1.3zM61.9 99.2h1.3v1.3h-1.3zM57.2 25.0h1.3v1.3h-1.3zM57.4 85.4h1.3v1.3h-1.3zM53.6 37.1h1.3v1.3h-1.3zM60.7 16.8h1.3v1.3h-1.3zM53.0 27.0h1.3v1.3h-1.3zM51.9 61.1h1.3v1.3h-1.3zM57.5 101.2h1.3v1.3h-1.3zM58.7 21.9h1.3v1.3h-1.3zM60.5 96.5h1.3v1.3h-1.3zM61.5 91.4h1.3v1.3h-1.3zM48.4 49.8h1.3v1.3h-1.3zM59.2 103.1h1.3v1.3h-1.3zM51.9 30.0h1.3v1.3h-1.3zM48.4 39.6h1.3v1.3h-1.3zM52.0 23.2h1.3v1.3h-1.3zM57.0 82.2h1.3v1.3h-1.3zM59.2 59.3h1.3v1.3h-1.3zM59.1 58.4h1.3v1.3h-1.3zM47.0 46.9h1.3v1.3h-1.3zM60.9 42.6h1.3v1.3h-1.3zM55.6 54.4h1.3v1.3h-1.3zM53.5 62.0h1.3v1.3h-1.3zM56.3 99.0h1.3v1.3h-1.3zM58.7 26.2h1.3v1.3h-1.3zM58.7 74.7h1.3v1.3h-1.3zM57.4 73.9h1.3v1.3h-1.3zM62.0 32.0h1.3v1.3h-1.3zM49.3 26.2h1.3v1.3h-1.3zM57.2 68.2h1.3v1.3h-1.3zM54.1 52.2h1.3v1.3h-1.3zM58.8 70.3h1.3v1.3h-1.3zM49.5 42.3h1.3v1.3h-1.3zM47.3 85.1h1.3v1.3h-1.3zM51.7 37.1h1.3v1.3h-1.3zM49.1 18.8h1.3v1.3h-1.3zM53.2 25.3h1.3v1.3h-1.3zM59.7 98.5h1.3v1.3h-1.3zM48.4 96.2h1.3v1.3h-1.3zM57.8 90.4h1.3v1.3h-1.3zM58.8 20.4h1.3v1.3h-1.3zM46.5 101.2h1.3v1.3h-1.3zM50.2 15.4h1.3v1.3h-1.3zM57.1 28.4h1.3v1.3h-1.3zM54.4 73.4h1.3v1.3h-1.3zM57.7 51.6h1.3v1.3h-1.3zM47.7 56.1h1.3v1.3h-1.3zM54.2 84.5h1.3v1.3h-1.3zM54.9 71.8h1.3v1.3h-1.3zM55.2 83.5h1.3v1.3h-1.3zM55.5 92.8h1.3v1.3h-1.3zM51.1 58.6h1.3v1.3h-1.3zM61.0 57.3h1.3v1.3h-1.3zM62.0 57.6h1.3v1.3h-1.3zM60.3 76.1h1.3v1.3h-1.3zM51.4 76.4h1.3v1.3h-1.3zM52.1 42.4h1.3v1.3h-1.3zM54.9 26.6h1.3v1.3h-1.3zM59.7 29.3h1.3v1.3h-1.3zM54.6 68.1h1.3v1.3h-1.3zM58.5 41.0h1.3v1.3h-1.3zM62.6 26.3h1.3v1.3h-1.3zM52.0 56.6h1.3v1.3h-1.3zM58.2 25.5h1.3v1.3h-1.3zM56.5 64.3h1.3v1.3h-1.3zM49.1 97.3h1.3v1.3h-1.3zM56.5 46.3h1.3v1.3h-1.3zM57.4 92.6h1.3v1.3h-1.3zM58.7 19.3h1.3v1.3h-1.3zM59.3 31.5h1.3v1.3h-1.3zM61.3 37.3h1.3v1.3h-1.3zM56.1 82.2h1.3v1.3h-1.3zM57.5 71.1h1.3v1.3h-1.3zM57.2 74.4h1.3v1.3h-1.3zM53.9 99.5h1.3v1.3h-1.3zM54.5 44.0h1.3v1.3h-1.3zM56.3 90.3h1.3v1.3h-1.3zM50.7 14.2h1.3v1.3h-1.3zM59.6 31.6h1.3v1.3h-1.3zM58.0 38.5h1.3v1.3h-1.3zM56.2 67.6h1.3v1.3h-1.3zM55.5 70.9h1.3v1.3h-1.3zM52.7 35.7h1.3v1.3h-1.3zM57.7 34.7h1.3v1.3h-1.3zM53.1 32.1h1.3v1.3h-1.3zM54.6 82.4h1.3v1.3h-1.3zM57.7 60.6h1.3v1.3h-1.3zM59.4 95.5h1.3v1.3h-1.3zM59.2 74.3h1.3v1.3h-1.3zM61.7 87.1h1.3v1.3h-1.3zM57.8 96.3h1.3v1.3h-1.3zM47.5 48.9h1.3v1.3h-1.3zM57.7 54.8h1.3v1.3h-1.3zM58.4 57.4h1.3v1.3h-1.3zM53.4 41.9h1.3v1.3h-1.3zM52.6 57.5h1.3v1.3h-1.3zM49.9 40.6h1.3v1.3h-1.3zM60.2 63.4h1.3v1.3h-1.3zM62.4 74.6h1.3v1.3h-1.3zM57.7 61.6h1.3v1.3h-1.3zM57.2 73.1h1.3v1.3h-1.3zM57.8 100.5h1.3v1.3h-1.3zM54.9 100.9h1.3v1.3h-1.3zM59.1 80.8h1.3v1.3h-1.3zM52.5 21.9h1.3v1.3h-1.3zM59.8 36.2h1.3v1.3h-1.3zM53.6 19.9h1.3v1.3h-1.3zM56.7 94.4h1.3v1.3h-1.3zM51.4 87.3h1.3v1.3h-1.3zM54.7 31.1h1.3v1.3h-1.3zM59.5 73.6h1.3v1.3h-1.3zM58.9 66.4h1.3v1.3h-1.3zM61.3 50.7h1.3v1.3h-1.3zM56.8 51.0h1.3v1.3h-1.3zM53.9 13.9h1.3v1.3h-1.3zM59.7 26.6h1.3v1.3h-1.3zM60.5 62.3h1.3v1.3h-1.3zM49.4 24.8h1.3v1.3h-1.3zM47.2 26.5h1.3v1.3h-1.3zM57.5 78.4h1.3v1.3h-1.3zM64.7 24.7h1.3v1.3h-1.3zM59.0 44.6h1.3v1.3h-1.3zM56.4 88.2h1.3v1.3h-1.3zM60.1 15.7h1.3v1.3h-1.3zM53.2 102.7h1.3v1.3h-1.3zM50.7 30.0h1.3v1.3h-1.3zM57.8 42.9h1.3v1.3h-1.3zM50.2 34.2h1.3v1.3h-1.3zM54.7 97.1h1.3v1.3h-1.3zM58.1 23.1h1.3v1.3h-1.3zM53.5 71.1h1.3v1.3h-1.3zM50.1 16.2h1.3v1.3h-1.3zM49.2 58.6h1.3v1.3h-1.3zM56.6 33.8h1.3v1.3h-1.3zM48.3 21.1h1.3v1.3h-1.3zM58.2 36.2h1.3v1.3h-1.3zM49.6 32.2h1.3v1.3h-1.3zM47.7 17.1h1.3v1.3h-1.3zM58.8 46.8h1.3v1.3h-1.3zM60.1 96.5h1.3v1.3h-1.3zM45.1 52.8h1.3v1.3h-1.3zM47.3 56.1h1.3v1.3h-1.3zM62.9 64.7h1.3v1.3h-1.3zM52.3 85.1h1.3v1.3h-1.3zM58.5 32.1h1.3v1.3h-1.3zM60.5 87.8h1.3v1.3h-1.3zM47.5 87.6h1.3v1.3h-1.3zM59.6 91.0h1.3v1.3h-1.3zM58.4 26.1h1.3v1.3h-1.3zM57.5 46.7h1.3v1.3h-1.3zM61.3 12.2h1.3v1.3h-1.3zM63.0 89.3h1.3v1.3h-1.3zM52.8 63.0h1.3v1.3h-1.3zM61.2 83.7h1.3v1.3h-1.3zM47.4 60.6h1.3v1.3h-1.3zM62.9 58.6h1.3v1.3h-1.3zM47.1 32.2h1.3v1.3h-1.3zM47.3 15.8h1.3v1.3h-1.3zM59.0 83.3h1.3v1.3h-1.3zM64.9 58.6h1.3v1.3h-1.3zM49.3 38.4h1.3v1.3h-1.3zM54.4 78.6h1.3v1.3h-1.3zM61.0 76.7h1.3v1.3h-1.3zM60.2 71.7h1.3v1.3h-1.3zM58.9 101.8h1.3v1.3h-1.3zM54.1 45.4h1.3v1.3h-1.3zM56.1 44.8h1.3v1.3h-1.3zM58.3 85.5h1.3v1.3h-1.3zM53.2 42.7h1.3v1.3h-1.3zM54.3 29.9h1.3v1.3h-1.3zM60.7 15.8h1.3v1.3h-1.3zM53.7 50.4h1.3v1.3h-1.3zM62.5 77.1h1.3v1.3h-1.3zM52.6 34.3h1.3v1.3h-1.3zM47.3 50.9h1.3v1.3h-1.3zM56.3 52.1h1.3v1.3h-1.3zM54.0 66.3h1.3v1.3h-1.3zM51.3 79.2h1.3v1.3h-1.3zM59.1 74.0h1.3v1.3h-1.3zM59.4 73.6h1.3v1.3h-1.3zM49.1 38.7h1.3v1.3h-1.3zM45.3 22.9h1.3v1.3h-1.3zM52.0 58.5h1.3v1.3h-1.3zM50.7 13.3h1.3v1.3h-1.3zM58.9 33.8h1.3v1.3h-1.3zM58.1 46.4h1.3v1.3h-1.3zM50.7 36.5h1.3v1.3h-1.3zM52.1 16.8h1.3v1.3h-1.3zM56.6 83.0h1.3v1.3h-1.3zM49.5 85.0h1.3v1.3h-1.3zM57.2 97.8h1.3v1.3h-1.3zM56.9 75.3h1.3v1.3h-1.3zM56.6 45.6h1.3v1.3h-1.3zM58.9 101.7h1.3v1.3h-1.3zM55.2 58.6h1.3v1.3h-1.3zM62.7 31.0h1.3v1.3h-1.3zM47.8 44.6h1.3v1.3h-1.3zM56.7 68.4h1.3v1.3h-1.3zM62.5 89.0h1.3v1.3h-1.3zM58.3 24.4h1.3v1.3h-1.3zM57.6 22.3h1.3v1.3h-1.3zM59.6 26.7h1.3v1.3h-1.3zM57.4 72.7h1.3v1.3h-1.3zM60.0 84.1h1.3v1.3h-1.3zM58.9 88.0h1.3v1.3h-1.3zM58.1 32.0h1.3v1.3h-1.3zM56.0 74.3h1.3v1.3h-1.3zM50.9 29.9h1.3v1.3h-1.3zM61.3 35.5h1.3v1.3h-1.3zM54.2 27.6h1.3v1.3h-1.3zM60.5 77.4h1.3v1.3h-1.3zM52.5 39.4h1.3v1.3h-1.3zM58.4 73.3h1.3v1.3h-1.3zM60.2 89.9h1.3v1.3h-1.3zM57.8 62.2h1.3v1.3h-1.3zM61.1 66.0h1.3v1.3h-1.3zM51.3 58.7h1.3v1.3h-1.3zM57.6 13.3h1.3v1.3h-1.3zM57.6 52.1h1.3v1.3h-1.3zM56.2 90.8h1.3v1.3h-1.3zM61.2 94.1h1.3v1.3h-1.3zM51.3 17.9h1.3v1.3h-1.3zM57.5 16.5h1.3v1.3h-1.3zM48.6 79.1h1.3v1.3h-1.3zM58.6 67.0h1.3v1.3h-1.3zM50.3 17.2h1.3v1.3h-1.3zM61.4 67.9h1.3v1.3h-1.3zM62.1 54.3h1.3v1.3h-1.3zM53.4 53.6h1.3v1.3h-1.3zM50.1 24.0h1.3v1.3h-1.3zM56.5 31.7h1.3v1.3h-1.3zM57.4 57.7h1.3v1.3h-1.3zM43.8 48.6h1.3v1.3h-1.3zM60.0 59.9h1.3v1.3h-1.3zM62.4 100.7h1.3v1.3h-1.3zM57.4 34.6h1.3v1.3h-1.3zM58.3 94.3h1.3v1.3h-1.3zM59.9 37.6h1.3v1.3h-1.3zM60.8 88.9h1.3v1.3h-1.3zM53.6 39.5h1.3v1.3h-1.3zM44.6 24.5h1.3v1.3h-1.3zM56.5 38.6h1.3v1.3h-1.3zM60.0 83.8h1.3v1.3h-1.3zM56.4 73.5h1.3v1.3h-1.3zM47.6 29.2h1.3v1.3h-1.3zM60.5 70.8h1.3v1.3h-1.3zM49.8 37.2h1.3v1.3h-1.3zM53.8 52.1h1.3v1.3h-1.3zM52.8 88.4h1.3v1.3h-1.3zM57.8 61.1h1.3v1.3h-1.3zM60.4 69.5h1.3v1.3h-1.3zM50.1 43.6h1.3v1.3h-1.3zM45.9 75.1h1.3v1.3h-1.3zM49.2 29.9h1.3v1.3h-1.3zM58.0 35.9h1.3v1.3h-1.3zM59.0 84.0h1.3v1.3h-1.3zM47.1 22.3h1.3v1.3h-1.3zM59.1 83.3h1.3v1.3h-1.3zM60.2 31.0h1.3v1.3h-1.3zM55.2 32.3h1.3v1.3h-1.3zM54.7 73.8h1.3v1.3h-1.3zM57.9 37.0h1.3v1.3h-1.3zM59.2 94.7h1.3v1.3h-1.3zM59.6 31.6h1.3v1.3h-1.3zM57.8 94.4h1.3v1.3h-1.3zM58.9 74.5h1.3v1.3h-1.3zM50.6 51.3h1.3v1.3h-1.3zM54.5 54.9h1.3v1.3h-1.3zM51.5 24.9h1.3v1.3h-1.3zM50.9 59.4h1.3v1.3h-1.3zM59.5 73.2h1.3v1.3h-1.3zM56.7 61.8h1.3v1.3h-1.3zM64.8 22.4h1.3v1.3h-1.3zM61.5 14.2h1.3v1.3h-1.3zM47.9 45.6h1.3v1.3h-1.3zM53.1 22.6h1.3v1.3h-1.3zM59.8 46.9h1.3v1.3h-1.3zM65.9 41.3h1.3v1.3h-1.3zM59.1 88.0h1.3v1.3h-1.3zM48.3 21.9h1.3v1.3h-1.3zM48.5 25.9h1.3v1.3h-1.3zM57.2 50.8h1.3v1.3h-1.3zM56.6 94.0h1.3v1.3h-1.3zM60.0 14.9h1.3v1.3h-1.3zM59.1 95.2h1.3v1.3h-1.3zM57.8 85.1h1.3v1.3h-1.3zM59.8 58.2h1.3v1.3h-1.3zM48.0 84.9h1.3v1.3h-1.3zM55.6 70.3h1.3v1.3h-1.3zM60.9 18.3h1.3v1.3h-1.3zM51.4 34.9h1.3v1.3h-1.3zM58.2 61.5h1.3v1.3h-1.3zM53.4 39.8h1.3v1.3h-1.3zM60.7 65.6h1.3v1.3h-1.3zM49.9 37.3h1.3v1.3h-1.3zM54.0 39.2h1.3v1.3h-1.3zM50.4 20.5h1.3v1.3h-1.3zM61.0 77.7h1.3v1.3h-1.3zM57.7 49.6h1.3v1.3h-1.3zM65.8 93.5h1.3v1.3h-1.3zM60.3 98.2h1.3v1.3h-1.3zM55.2 30.5h1.3v1.3h-1.3zM57.9 71.1h1.3v1.3h-1.3zM58.6 90.8h1.3v1.3h-1.3zM59.8 35.6h1.3v1.3h-1.3zM54.2 77.1h1.3v1.3h-1.3zM55.8 28.7h1.3v1.3h-1.3zM58.5 93.8h1.3v1.3h-1.3zM60.1 47.7h1.3v1.3h-1.3zM62.5 63.3h1.3v1.3h-1.3zM56.5 38.0h1.3v1.3h-1.3zM53.5 47.6h1.3v1.3h-1.3zM60.0 102.7h1.3v1.3h-1.3zM57.4 79.8h1.3v1.3h-1.3zM60.4 97.7h1.3v1.3h-1.3zM57.6 83.9h1.3v1.3h-1.3zM52.7 40.4h1.3v1.3h-1.3zM45.0 27.4h1.3v1.3h-1.3zM57.4 55.6h1.3v1.3h-1.3zM58.6 62.3h1.3v1.3h-1.3zM58.7 86.2h1.3v1.3h-1.3zM59.9 30.7h1.3v1.3h-1.3zM56.5 98.7h1.3v1.3h-1.3zM59.5 69.6h1.3v1.3h-1.3zM57.0 20.4h1.3v1.3h-1.3zM60.0 66.2h1.3v1.3h-1.3zM61.3 50.2h1.3v1.3h-1.3zM52.7 31.3h1.3v1.3h-1.3zM56.7 93.0h1.3v1.3h-1.3zM58.4 62.2h1.3v1.3h-1.3zM48.4 26.0h1.3v1.3h-1.3zM61.5 66.7h1.3v1.3h-1.3zM56.3 86.2h1.3v1.3h-1.3zM50.7 45.8h1.3v1.3h-1.3zM59.4 72.5h1.3v1.3h-1.3zM56.0 54.1h1.3v1.3h-1.3zM46.6 40.9h1.3v1.3h-1.3zM46.9 31.0h1.3v1.3h-1.3zM55.0 98.7h1.3v1.3h-1.3zM52.8 69.7h1.3v1.3h-1.3zM57.4 52.7h1.3v1.3h-1.3zM59.9 49.7h1.3v1.3h-1.3zM59.1 83.2h1.3v1.3h-1.3zM61.1 56.8h1.3v1.3h-1.3zM57.3 70.9h1.3v1.3h-1.3zM62.0 103.0h1.3v1.3h-1.3zM52.1 42.6h1.3v1.3h-1.3zM59.4 75.7h1.3v1.3h-1.3zM58.6 88.4h1.3v1.3h-1.3zM50.6 46.9h1.3v1.3h-1.3zM59.8 57.6h1.3v1.3h-1.3zM59.6 72.1h1.3v1.3h-1.3zM63.1 51.4h1.3v1.3h-1.3zM59.5 54.8h1.3v1.3h-1.3zM56.9 89.4h1.3v1.3h-1.3zM57.2 66.4h1.3v1.3h-1.3zM53.2 12.1h1.3v1.3h-1.3zM57.2 38.9h1.3v1.3h-1.3zM53.2 68.3h1.3v1.3h-1.3zM57.3 63.7h1.3v1.3h-1.3zM61.7 63.6h1.3v1.3h-1.3zM59.4 62.4h1.3v1.3h-1.3zM55.6 100.5h1.3v1.3h-1.3zM59.4 60.7h1.3v1.3h-1.3zM48.0 98.5h1.3v1.3h-1.3zM56.8 14.7h1.3v1.3h-1.3zM58.8 78.9h1.3v1.3h-1.3zM55.2 101.5h1.3v1.3h-1.3zM47.0 68.1h1.3v1.3h-1.3zM54.3 59.1h1.3v1.3h-1.3zM60.4 43.5h1.3v1.3h-1.3zM61.8 82.7h1.3v1.3h-1.3zM43.3 13.6h1.3v1.3h-1.3zM59.1 48.2h1.3v1.3h-1.3zM47.5 96.8h1.3v1.3h-1.3zM59.4 61.4h1.3v1.3h-1.3zM53.4 58.3h1.3v1.3h-1.3zM54.8 86.0h1.3v1.3h-1.3zM59.3 11.9h1.3v1.3h-1.3zM57.9 82.0h1.3v1.3h-1.3zM61.2 69.8h1.3v1.3h-1.3zM58.8 88.2h1.3v1.3h-1.3zM56.6 40.5h1.3v1.3h-1.3zM45.2 63.7h1.3v1.3h-1.3zM60.3 24.2h1.3v1.3h-1.3zM57.7 75.6h1.3v1.3h-1.3zM58.9 23.0h1.3v1.3h-1.3zM57.7 20.8h1.3v1.3h-1.3zM57.9 85.6h1.3v1.3h-1.3zM51.3 48.6h1.3v1.3h-1.3zM60.5 20.2h1.3v1.3h-1.3zM59.9 72.6h1.3v1.3h-1.3zM61.2 49.3h1.3v1.3h-1.3zM59.2 34.0h1.3v1.3h-1.3zM55.1 77.2h1.3v1.3h-1.3zM50.0 23.5h1.3v1.3h-1.3zM48.4 38.6h1.3v1.3h-1.3zM59.9 39.6h1.3v1.3h-1.3zM52.2 20.0h1.3v1.3h-1.3zM52.2 35.5h1.3v1.3h-1.3zM58.7 58.6h1.3v1.3h-1.3zM51.1 46.3h1.3v1.3h-1.3zM58.0 96.3h1.3v1.3h-1.3zM52.8 38.2h1.3v1.3h-1.3zM59.8 67.9h1.3v1.3h-1.3zM53.0 57.6h1.3v1.3h-1.3zM53.1 37.0h1.3v1.3h-1.3zM59.1 91.8h1.3v1.3h-1.3zM58.1 13.7h1.3v1.3h-1.3zM45.9 74.3h1.3v1.3h-1.3zM56.3 40.2h1.3v1.3h-1.3zM61.7 69.8h1.3v1.3h-1.3zM52.5 21.7h1.3v1.3h-1.3zM58.5 72.3h1.3v1.3h-1.3zM61.2 69.7h1.3v1.3h-1.3zM53.2 34.7h1.3v1.3h-1.3zM46.2 15.3h1.3v1.3h-1.3zM58.5 43.5h1.3v1.3h-1.3zM59.5 93.2h1.3v1.3h-1.3zM56.1 61.0h1.3v1.3h-1.3zM51.4 15.7h1.3v1.3h-1.3zM50.5 44.9h1.3v1.3h-1.3zM57.1 32.4h1.3v1.3h-1.3zM58.9 45.8h1.3v1.3h-1.3zM60.5 36.3h1.3v1.3h-1.3zM56.8 81.3h1.3v1.3h-1.3zM49.8 81.6h1.3v1.3h-1.3zM53.7 70.3h1.3v1.3h-1.3zM62.9 68.5h1.3v1.3h-1.3zM59.1 51.3h1.3v1.3h-1.3zM57.1 45.9h1.3v1.3h-1.3zM57.9 30.9h1.3v1.3h-1.3zM56.4 63.2h1.3v1.3h-1.3zM54.7 96.1h1.3v1.3h-1.3zM56.3 65.8h1.3v1.3h-1.3zM56.1 57.4h1.3v1.3h-1.3zM60.8 71.2h1.3v1.3h-1.3zM66.2 54.8h1.3v1.3h-1.3zM58.0 41.7h1.3v1.3h-1.3zM48.3 74.8h1.3v1.3h-1.3zM61.2 37.9h1.3v1.3h-1.3zM57.2 43.2h1.3v1.3h-1.3zM50.7 64.7h1.3v1.3h-1.3zM57.8 100.0h1.3v1.3h-1.3zM57.2 81.4h1.3v1.3h-1.3zM56.9 93.5h1.3v1.3h-1.3zM56.8 73.9h1.3v1.3h-1.3zM62.0 100.7h1.3v1.3h-1.3zM49.6 32.2h1.3v1.3h-1.3zM53.6 14.0h1.3v1.3h-1.3zM52.9 40.1h1.3v1.3h-1.3zM57.7 70.2h1.3v1.3h-1.3zM64.0 58.3h1.3v1.3h-1.3zM62.0 57.5h1.3v1.3h-1.3zM61.5 59.2h1.3v1.3h-1.3zM48.3 68.9h1.3v1.3h-1.3zM54.1 42.0h1.3v1.3h-1.3zM48.0 93.0h1.3v1.3h-1.3zM53.1 23.8h1.3v1.3h-1.3zM51.1 46.0h1.3v1.3h-1.3zM60.4 50.8h1.3v1.3h-1.3zM55.5 15.6h1.3v1.3h-1.3zM62.4 58.8h1.3v1.3h-1.3zM51.4 59.1h1.3v1.3h-1.3zM52.4 31.7h1.3v1.3h-1.3zM60.7 42.8h1.3v1.3h-1.3zM48.7 13.7h1.3v1.3h-1.3zM59.1 74.9h1.3v1.3h-1.3zM59.2 100.3h1.3v1.3h-1.3zM54.3 25.5h1.3v1.3h-1.3zM50.1 44.9h1.3v1.3h-1.3zM60.9 85.6h1.3v1.3h-1.3zM53.2 36.6h1.3v1.3h-1.3zM53.7 19.1h1.3v1.3h-1.3zM65.0 73.8h1.3v1.3h-1.3zM49.6 99.4h1.3v1.3h-1.3zM54.9 67.3h1.3v1.3h-1.3zM60.1 37.0h1.3v1.3h-1.3zM48.7 60.2h1.3v1.3h-1.3zM59.2 25.3h1.3v1.3h-1.3zM60.7 72.7h1.3v1.3h-1.3zM53.3 98.5h1.3v1.3h-1.3zM55.3 58.2h1.3v1.3h-1.3zM59.0 89.5h1.3v1.3h-1.3zM57.8 48.9h1.3v1.3h-1.3zM59.4 85.2h1.3v1.3h-1.3zM56.3 37.3h1.3v1.3h-1.3zM62.7 93.3h1.3v1.3h-1.3zM59.0 58.8h1.3v1.3h-1.3zM47.3 41.9h1.3v1.3h-1.3zM44.5 28.4h1.3v1.3h-1.3zM59.7 81.3h1.3v1.3h-1.3zM46.8 78.6h1.3v1.3h-1.3zM48.7 15.7h1.3v1.3h-1.3zM59.3 101.3h1.3v1.3h-1.3zM60.1 78.1h1.3v1.3h-1.3zM55.6 71.2h1.3v1.3h-1.3zM58.7 96.1h1.3v1.3h-1.3zM54.6 71.9h1.3v1.3h-1.3zM52.2 64.2h1.3v1.3h-1.3zM47.7 18.0h1.3v1.3h-1.3zM58.4 45.8h1.3v1.3h-1.3zM50.3 20.1h1.3v1.3h-1.3zM47.7 45.4h1.3v1.3h-1.3zM56.9 97.8h1.3v1.3h-1.3zM59.2 17.2h1.3v1.3h-1.3zM58.9 88.4h1.3v1.3h-1.3zM62.8 84.8h1.3v1.3h-1.3zM52.8 47.3h1.3v1.3h-1.3zM53.6 43.8h1.3v1.3h-1.3zM64.7 76.4h1.3v1.3h-1.3zM56.9 50.7h1.3v1.3h-1.3zM53.9 168.3h1.3v1.3h-1.3zM51.5 175.5h1.3v1.3h-1.3zM55.3 114.9h1.3v1.3h-1.3zM55.5 85.4h1.3v1.3h-1.3zM57.4 139.9h1.3v1.3h-1.3zM71.1 32.8h1.3v1.3h-1.3zM58.1 112.2h1.3v1.3h-1.3zM62.8 68.5h1.3v1.3h-1.3zM47.1 43.3h1.3v1.3h-1.3zM61.4 138.1h1.3v1.3h-1.3zM50.3 178.9h1.3v1.3h-1.3zM70.0 69.0h1.3v1.3h-1.3zM55.1 83.6h1.3v1.3h-1.3zM55.6 121.0h1.3v1.3h-1.3zM53.8 17.3h1.3v1.3h-1.3zM53.2 33.2h1.3v1.3h-1.3zM53.9 65.2h1.3v1.3h-1.3zM56.0 120.2h1.3v1.3h-1.3zM63.2 56.2h1.3v1.3h-1.3zM53.1 114.5h1.3v1.3h-1.3zM55.7 38.8h1.3v1.3h-1.3zM67.7 57.5h1.3v1.3h-1.3zM45.2 40.5h1.3v1.3h-1.3zM62.3 45.2h1.3v1.3h-1.3zM60.2 69.8h1.3v1.3h-1.3zM60.4 80.9h1.3v1.3h-1.3zM57.7 95.0h1.3v1.3h-1.3zM51.3 81.1h1.3v1.3h-1.3zM59.3 86.2h1.3v1.3h-1.3zM44.5 173.5h1.3v1.3h-1.3zM57.3 103.8h1.3v1.3h-1.3zM73.9 131.4h1.3v1.3h-1.3zM53.8 35.1h1.3v1.3h-1.3zM60.6 167.2h1.3v1.3h-1.3zM51.4 92.4h1.3v1.3h-1.3zM64.5 104.0h1.3v1.3h-1.3zM58.4 70.5h1.3v1.3h-1.3zM61.0 131.3h1.3v1.3h-1.3zM57.0 136.4h1.3v1.3h-1.3zM57.2 87.6h1.3v1.3h-1.3zM61.6 48.6h1.3v1.3h-1.3zM59.3 156.2h1.3v1.3h-1.3zM52.3 55.1h1.3v1.3h-1.3zM55.7 62.6h1.3v1.3h-1.3zM56.3 150.5h1.3v1.3h-1.3zM62.8 150.1h1.3v1.3h-1.3zM53.4 126.4h1.3v1.3h-1.3zM45.5 31.3h1.3v1.3h-1.3zM60.8 56.8h1.3v1.3h-1.3zM58.3 104.3h1.3v1.3h-1.3z" fill="#111"/></g>
<g id="panelB"><line x1="18.3" y1="225.8" x2="18.3" y2="326.0" stroke="#1a1a1a" stroke-width="1.55"/>
<line x1="12.100000000000001" y1="322.8" x2="237" y2="322.8" stroke="#1a1a1a" stroke-width="1.55"/>
<line x1="18.30" y1="322.8" x2="18.30" y2="326.90000000000003" stroke="#1a1a1a" stroke-width="1.15"/>
<line x1="25.59" y1="322.8" x2="25.59" y2="325.7" stroke="#1a1a1a" stroke-width="1.15"/>
<line x1="32.88" y1="322.8" x2="32.88" y2="325.7" stroke="#1a1a1a" stroke-width="1.15"/>
<line x1="40.17" y1="322.8" x2="40.17" y2="325.7" stroke="#1a1a1a" stroke-width="1.15"/>
<line x1="47.46" y1="322.8" x2="47.46" y2="325.7" stroke="#1a1a1a" stroke-width="1.15"/>
<line x1="54.75" y1="322.8" x2="54.75" y2="326.90000000000003" stroke="#1a1a1a" stroke-width="1.15"/>
<line x1="62.04" y1="322.8" x2="62.04" y2="325.7" stroke="#1a1a1a" stroke-width="1.15"/>
<line x1="69.33" y1="322.8" x2="69.33" y2="325.7" stroke="#1a1a1a" stroke-width="1.15"/>
<line x1="76.62" y1="322.8" x2="76.62" y2="325.7" stroke="#1a1a1a" stroke-width="1.15"/>
<line x1="83.91" y1="322.8" x2="83.91" y2="325.7" stroke="#1a1a1a" stroke-width="1.15"/>
<line x1="91.20" y1="322.8" x2="91.20" y2="326.90000000000003" stroke="#1a1a1a" stroke-width="1.15"/>
<line x1="98.49" y1="322.8" x2="98.49" y2="325.7" stroke="#1a1a1a" stroke-width="1.15"/>
<line x1="105.78" y1="322.8" x2="105.78" y2="325.7" stroke="#1a1a1a" stroke-width="1.15"/>
<line x1="113.07" y1="322.8" x2="113.07" y2="325.7" stroke="#1a1a1a" stroke-width="1.15"/>
<line x1="120.36" y1="322.8" x2="120.36" y2="325.7" stroke="#1a1a1a" stroke-width="1.15"/>
<line x1="127.65" y1="322.8" x2="127.65" y2="326.90000000000003" stroke="#1a1a1a" stroke-width="1.15"/>
<line x1="134.94" y1="322.8" x2="134.94" y2="325.7" stroke="#1a1a1a" stroke-width="1.15"/>
<line x1="142.23" y1="322.8" x2="142.23" y2="325.7" stroke="#1a1a1a" stroke-width="1.15"/>
<line x1="149.52" y1="322.8" x2="149.52" y2="325.7" stroke="#1a1a1a" stroke-width="1.15"/>
<line x1="156.81" y1="322.8" x2="156.81" y2="325.7" stroke="#1a1a1a" stroke-width="1.15"/>
<line x1="164.10" y1="322.8" x2="164.10" y2="326.90000000000003" stroke="#1a1a1a" stroke-width="1.15"/>
<line x1="171.39" y1="322.8" x2="171.39" y2="325.7" stroke="#1a1a1a" stroke-width="1.15"/>
<line x1="178.68" y1="322.8" x2="178.68" y2="325.7" stroke="#1a1a1a" stroke-width="1.15"/>
<line x1="185.97" y1="322.8" x2="185.97" y2="325.7" stroke="#1a1a1a" stroke-width="1.15"/>
<line x1="193.26" y1="322.8" x2="193.26" y2="325.7" stroke="#1a1a1a" stroke-width="1.15"/>
<line x1="200.55" y1="322.8" x2="200.55" y2="326.90000000000003" stroke="#1a1a1a" stroke-width="1.15"/>
<line x1="207.84" y1="322.8" x2="207.84" y2="325.7" stroke="#1a1a1a" stroke-width="1.15"/>
<line x1="215.13" y1="322.8" x2="215.13" y2="325.7" stroke="#1a1a1a" stroke-width="1.15"/>
<line x1="222.42" y1="322.8" x2="222.42" y2="325.7" stroke="#1a1a1a" stroke-width="1.15"/>
<line x1="229.71" y1="322.8" x2="229.71" y2="325.7" stroke="#1a1a1a" stroke-width="1.15"/>
<line x1="237.00" y1="322.8" x2="237.00" y2="326.90000000000003" stroke="#1a1a1a" stroke-width="1.15"/>
<line x1="15.5" y1="313.10" x2="18.3" y2="313.10" stroke="#1a1a1a" stroke-width="1.15"/>
<line x1="15.5" y1="303.40" x2="18.3" y2="303.40" stroke="#1a1a1a" stroke-width="1.15"/>
<line x1="15.5" y1="293.70" x2="18.3" y2="293.70" stroke="#1a1a1a" stroke-width="1.15"/>
<line x1="15.5" y1="284.00" x2="18.3" y2="284.00" stroke="#1a1a1a" stroke-width="1.15"/>
<line x1="15.5" y1="274.30" x2="18.3" y2="274.30" stroke="#1a1a1a" stroke-width="1.15"/>
<line x1="15.5" y1="264.60" x2="18.3" y2="264.60" stroke="#1a1a1a" stroke-width="1.15"/>
<line x1="15.5" y1="254.90" x2="18.3" y2="254.90" stroke="#1a1a1a" stroke-width="1.15"/>
<line x1="15.5" y1="245.20" x2="18.3" y2="245.20" stroke="#1a1a1a" stroke-width="1.15"/>
<line x1="15.5" y1="235.50" x2="18.3" y2="235.50" stroke="#1a1a1a" stroke-width="1.15"/>
<path d="M93.5 322.3 L95.5 320 L96.8 312 L97.9 298 L99.2 282 L101 262 L101.4 260 L102.8 254 L103.6 244 L104.8 236 L107.5 230.5 L109.6 234.4 L111.6 254 L113.5 282 L115.3 298 L117.2 312 L119 319.6 L121.5 322.3 Z" fill="#4c4c4c" stroke="#1a1a1a" stroke-width="1.7" stroke-linejoin="round"/>
<path d="M95 322 L97.2 312 L98.6 298 L100 280 L101.2 262 L103 258 L103.4 250 L105.5 238 L108.6 234.6 L109.8 233 L111.2 228.6 L112.6 236 L114 254 L115 282 L115.9 298 L117.7 312 L119.5 319.5 L121.5 322" fill="none" stroke="#1a1a1a" stroke-width="1.6" stroke-linejoin="round"/>
<path d="M60 322.4 L70 322.2 L72 321.6 L74 322.2 L82 322.2 L84 321.2 L86 321.8 L88 321 L90 321.9 L93 322.2 M121 322 L123 321.3 L125 322 L127 320.8 L129 322 L150 322.2" fill="none" stroke="#1a1a1a" stroke-width="1.3"/>
<path d="M158 322.8 L162 321.6 L164 320.8 L166 321.4 L168 320.3 L170 321 L172 320.5 L174 321.2 L176 320 L178 320.9 L180 320.2 L182 319.8 L184 320.8 L186 319.9 L188 319.6 L190 320.4 L192 319.6 L194 319.5 L196 320.4 L198 319.8 L200 320.6 L202 321.2 L205 321.9 L209 322.8 Z" fill="#1a1a1a" stroke="#1a1a1a" stroke-width="0.8" stroke-linejoin="round"/>
<text x="194.6" y="236.9" font-size="14.3">B</text>
<text x="153.6" y="268.5" font-size="10" textLength="20.6" lengthAdjust="spacingAndGlyphs">11%</text></g>
<g id="panelC"><line x1="288.6" y1="4.5" x2="288.6" y2="93.3" stroke="#1a1a1a" stroke-width="1.55"/>
<line x1="284.6" y1="90.1" x2="515" y2="90.1" stroke="#1a1a1a" stroke-width="1.55"/>
<line x1="288.60" y1="90.1" x2="288.60" y2="92.39999999999999" stroke="#1a1a1a" stroke-width="1.15"/>
<line x1="296.15" y1="90.1" x2="296.15" y2="91.6" stroke="#1a1a1a" stroke-width="1.15"/>
<line x1="303.69" y1="90.1" x2="303.69" y2="91.6" stroke="#1a1a1a" stroke-width="1.15"/>
<line x1="311.24" y1="90.1" x2="311.24" y2="91.6" stroke="#1a1a1a" stroke-width="1.15"/>
<line x1="318.79" y1="90.1" x2="318.79" y2="91.6" stroke="#1a1a1a" stroke-width="1.15"/>
<line x1="326.33" y1="90.1" x2="326.33" y2="92.39999999999999" stroke="#1a1a1a" stroke-width="1.15"/>
<line x1="333.88" y1="90.1" x2="333.88" y2="91.6" stroke="#1a1a1a" stroke-width="1.15"/>
<line x1="341.43" y1="90.1" x2="341.43" y2="91.6" stroke="#1a1a1a" stroke-width="1.15"/>
<line x1="348.97" y1="90.1" x2="348.97" y2="91.6" stroke="#1a1a1a" stroke-width="1.15"/>
<line x1="356.52" y1="90.1" x2="356.52" y2="91.6" stroke="#1a1a1a" stroke-width="1.15"/>
<line x1="364.07" y1="90.1" x2="364.07" y2="92.39999999999999" stroke="#1a1a1a" stroke-width="1.15"/>
<line x1="371.61" y1="90.1" x2="371.61" y2="91.6" stroke="#1a1a1a" stroke-width="1.15"/>
<line x1="379.16" y1="90.1" x2="379.16" y2="91.6" stroke="#1a1a1a" stroke-width="1.15"/>
<line x1="386.71" y1="90.1" x2="386.71" y2="91.6" stroke="#1a1a1a" stroke-width="1.15"/>
<line x1="394.25" y1="90.1" x2="394.25" y2="91.6" stroke="#1a1a1a" stroke-width="1.15"/>
<line x1="401.80" y1="90.1" x2="401.80" y2="92.39999999999999" stroke="#1a1a1a" stroke-width="1.15"/>
<line x1="409.35" y1="90.1" x2="409.35" y2="91.6" stroke="#1a1a1a" stroke-width="1.15"/>
<line x1="416.89" y1="90.1" x2="416.89" y2="91.6" stroke="#1a1a1a" stroke-width="1.15"/>
<line x1="424.44" y1="90.1" x2="424.44" y2="91.6" stroke="#1a1a1a" stroke-width="1.15"/>
<line x1="431.99" y1="90.1" x2="431.99" y2="91.6" stroke="#1a1a1a" stroke-width="1.15"/>
<line x1="439.53" y1="90.1" x2="439.53" y2="92.39999999999999" stroke="#1a1a1a" stroke-width="1.15"/>
<line x1="447.08" y1="90.1" x2="447.08" y2="91.6" stroke="#1a1a1a" stroke-width="1.15"/>
<line x1="454.63" y1="90.1" x2="454.63" y2="91.6" stroke="#1a1a1a" stroke-width="1.15"/>
<line x1="462.17" y1="90.1" x2="462.17" y2="91.6" stroke="#1a1a1a" stroke-width="1.15"/>
<line x1="469.72" y1="90.1" x2="469.72" y2="91.6" stroke="#1a1a1a" stroke-width="1.15"/>
<line x1="477.27" y1="90.1" x2="477.27" y2="92.39999999999999" stroke="#1a1a1a" stroke-width="1.15"/>
<line x1="484.81" y1="90.1" x2="484.81" y2="91.6" stroke="#1a1a1a" stroke-width="1.15"/>
<line x1="492.36" y1="90.1" x2="492.36" y2="91.6" stroke="#1a1a1a" stroke-width="1.15"/>
<line x1="499.91" y1="90.1" x2="499.91" y2="91.6" stroke="#1a1a1a" stroke-width="1.15"/>
<line x1="507.45" y1="90.1" x2="507.45" y2="91.6" stroke="#1a1a1a" stroke-width="1.15"/>
<line x1="515.00" y1="90.1" x2="515.00" y2="92.39999999999999" stroke="#1a1a1a" stroke-width="1.15"/>
<line x1="287.0" y1="81.54" x2="288.6" y2="81.54" stroke="#1a1a1a" stroke-width="1.15"/>
<line x1="285.20000000000005" y1="72.98" x2="288.6" y2="72.98" stroke="#1a1a1a" stroke-width="1.15"/>
<line x1="287.0" y1="64.42" x2="288.6" y2="64.42" stroke="#1a1a1a" stroke-width="1.15"/>
<line x1="285.20000000000005" y1="55.86" x2="288.6" y2="55.86" stroke="#1a1a1a" stroke-width="1.15"/>
<line x1="287.0" y1="47.30" x2="288.6" y2="47.30" stroke="#1a1a1a" stroke-width="1.15"/>
<line x1="285.20000000000005" y1="38.74" x2="288.6" y2="38.74" stroke="#1a1a1a" stroke-width="1.15"/>
<line x1="287.0" y1="30.18" x2="288.6" y2="30.18" stroke="#1a1a1a" stroke-width="1.15"/>
<line x1="285.20000000000005" y1="21.62" x2="288.6" y2="21.62" stroke="#1a1a1a" stroke-width="1.15"/>
<line x1="287.0" y1="13.06" x2="288.6" y2="13.06" stroke="#1a1a1a" stroke-width="1.15"/>
<path d="M370.6 89.6 L372.2 86 L374 70 L376.3 52 L377.6 40 L379 30 L381.6 10 L383.2 10.4 L384.6 30 L387.2 46 L389.4 56 L390.4 70 L391.3 84 L392.8 88.4 L394.4 89.6 Z" fill="#4c4c4c" stroke="#1a1a1a" stroke-width="1.7" stroke-linejoin="round"/>
<path d="M371.6 89.4 L373.4 80 L375.2 60 L376.4 44 L377.8 40 L379.4 30 L382.4 12 L383.6 9.2 L387.6 9.2 L388.2 20 L389.2 40 L390 52 L391.4 84 L393.8 89.4" fill="none" stroke="#1a1a1a" stroke-width="1.6" stroke-linejoin="round"/>
<path d="M350 89.8 L352 89.2 L354 89.8 M398 89.7 L401 89.2 L404 89.8" fill="none" stroke="#1a1a1a" stroke-width="1.1"/>
<text x="494.2" y="15.2" font-size="14.3">C</text>
<text x="430.8" y="41.6" font-size="10" textLength="15.2" lengthAdjust="spacingAndGlyphs">0%</text></g>
<g id="panelD"><line x1="288.6" y1="118.6" x2="288.6" y2="207.7" stroke="#1a1a1a" stroke-width="1.55"/>
<line x1="284.6" y1="204.5" x2="516" y2="204.5" stroke="#1a1a1a" stroke-width="1.55"/>
<line x1="288.60" y1="204.5" x2="288.60" y2="207.0" stroke="#1a1a1a" stroke-width="1.15"/>
<line x1="296.18" y1="204.5" x2="296.18" y2="206.0" stroke="#1a1a1a" stroke-width="1.15"/>
<line x1="303.76" y1="204.5" x2="303.76" y2="206.0" stroke="#1a1a1a" stroke-width="1.15"/>
<line x1="311.34" y1="204.5" x2="311.34" y2="206.0" stroke="#1a1a1a" stroke-width="1.15"/>
<line x1="318.92" y1="204.5" x2="318.92" y2="206.0" stroke="#1a1a1a" stroke-width="1.15"/>
<line x1="326.50" y1="204.5" x2="326.50" y2="207.0" stroke="#1a1a1a" stroke-width="1.15"/>
<line x1="334.08" y1="204.5" x2="334.08" y2="206.0" stroke="#1a1a1a" stroke-width="1.15"/>
<line x1="341.66" y1="204.5" x2="341.66" y2="206.0" stroke="#1a1a1a" stroke-width="1.15"/>
<line x1="349.24" y1="204.5" x2="349.24" y2="206.0" stroke="#1a1a1a" stroke-width="1.15"/>
<line x1="356.82" y1="204.5" x2="356.82" y2="206.0" stroke="#1a1a1a" stroke-width="1.15"/>
<line x1="364.40" y1="204.5" x2="364.40" y2="207.0" stroke="#1a1a1a" stroke-width="1.15"/>
<line x1="371.98" y1="204.5" x2="371.98" y2="206.0" stroke="#1a1a1a" stroke-width="1.15"/>
<line x1="379.56" y1="204.5" x2="379.56" y2="206.0" stroke="#1a1a1a" stroke-width="1.15"/>
<line x1="387.14" y1="204.5" x2="387.14" y2="206.0" stroke="#1a1a1a" stroke-width="1.15"/>
<line x1="394.72" y1="204.5" x2="394.72" y2="206.0" stroke="#1a1a1a" stroke-width="1.15"/>
<line x1="402.30" y1="204.5" x2="402.30" y2="207.0" stroke="#1a1a1a" stroke-width="1.15"/>
<line x1="409.88" y1="204.5" x2="409.88" y2="206.0" stroke="#1a1a1a" stroke-width="1.15"/>
<line x1="417.46" y1="204.5" x2="417.46" y2="206.0" stroke="#1a1a1a" stroke-width="1.15"/>
<line x1="425.04" y1="204.5" x2="425.04" y2="206.0" stroke="#1a1a1a" stroke-width="1.15"/>
<line x1="432.62" y1="204.5" x2="432.62" y2="206.0" stroke="#1a1a1a" stroke-width="1.15"/>
<line x1="440.20" y1="204.5" x2="440.20" y2="207.0" stroke="#1a1a1a" stroke-width="1.15"/>
<line x1="447.78" y1="204.5" x2="447.78" y2="206.0" stroke="#1a1a1a" stroke-width="1.15"/>
<line x1="455.36" y1="204.5" x2="455.36" y2="206.0" stroke="#1a1a1a" stroke-width="1.15"/>
<line x1="462.94" y1="204.5" x2="462.94" y2="206.0" stroke="#1a1a1a" stroke-width="1.15"/>
<line x1="470.52" y1="204.5" x2="470.52" y2="206.0" stroke="#1a1a1a" stroke-width="1.15"/>
<line x1="478.10" y1="204.5" x2="478.10" y2="207.0" stroke="#1a1a1a" stroke-width="1.15"/>
<line x1="485.68" y1="204.5" x2="485.68" y2="206.0" stroke="#1a1a1a" stroke-width="1.15"/>
<line x1="493.26" y1="204.5" x2="493.26" y2="206.0" stroke="#1a1a1a" stroke-width="1.15"/>
<line x1="500.84" y1="204.5" x2="500.84" y2="206.0" stroke="#1a1a1a" stroke-width="1.15"/>
<line x1="508.42" y1="204.5" x2="508.42" y2="206.0" stroke="#1a1a1a" stroke-width="1.15"/>
<line x1="516.00" y1="204.5" x2="516.00" y2="207.0" stroke="#1a1a1a" stroke-width="1.15"/>
<line x1="286.8" y1="198.45" x2="288.6" y2="198.45" stroke="#1a1a1a" stroke-width="1.15"/>
<line x1="284.40000000000003" y1="192.40" x2="288.6" y2="192.40" stroke="#1a1a1a" stroke-width="1.15"/>
<line x1="286.8" y1="186.35" x2="288.6" y2="186.35" stroke="#1a1a1a" stroke-width="1.15"/>
<line x1="284.40000000000003" y1="180.30" x2="288.6" y2="180.30" stroke="#1a1a1a" stroke-width="1.15"/>
<line x1="286.8" y1="174.25" x2="288.6" y2="174.25" stroke="#1a1a1a" stroke-width="1.15"/>
<line x1="284.40000000000003" y1="168.20" x2="288.6" y2="168.20" stroke="#1a1a1a" stroke-width="1.15"/>
<line x1="286.8" y1="162.15" x2="288.6" y2="162.15" stroke="#1a1a1a" stroke-width="1.15"/>
<line x1="284.40000000000003" y1="156.10" x2="288.6" y2="156.10" stroke="#1a1a1a" stroke-width="1.15"/>
<line x1="286.8" y1="150.05" x2="288.6" y2="150.05" stroke="#1a1a1a" stroke-width="1.15"/>
<line x1="284.40000000000003" y1="144.00" x2="288.6" y2="144.00" stroke="#1a1a1a" stroke-width="1.15"/>
<line x1="286.8" y1="137.95" x2="288.6" y2="137.95" stroke="#1a1a1a" stroke-width="1.15"/>
<line x1="284.40000000000003" y1="131.90" x2="288.6" y2="131.90" stroke="#1a1a1a" stroke-width="1.15"/>
<line x1="286.8" y1="125.85" x2="288.6" y2="125.85" stroke="#1a1a1a" stroke-width="1.15"/>
<path d="M371.6 204 L373.8 201 L375.8 191 L377.8 171 L380.4 160 L381.9 146 L383.2 134 L385.2 134.6 L386 140 L387.2 150 L389.3 160 L390.6 176 L391.8 190 L393.2 200 L395.4 203.4 L399.5 204 Z" fill="#4c4c4c" stroke="#1a1a1a" stroke-width="1.7" stroke-linejoin="round"/>
<path d="M372.6 203.8 L374.8 196 L376.4 180 L378.2 165 L380.8 156 L382.5 142 L383.8 136 L385.6 138 L387 130 L387.8 142 L389.9 160 L391.2 178 L392.4 192 L394 201 L396.2 203.6" fill="none" stroke="#1a1a1a" stroke-width="1.6" stroke-linejoin="round"/>
<path d="M398 203.9 L402 203.2 L404 203.9" fill="none" stroke="#1a1a1a" stroke-width="1.1"/>
<text x="497" y="134.2" font-size="14.3">D</text>
<text x="427.6" y="155.3" font-size="10" textLength="15.3" lengthAdjust="spacingAndGlyphs">0%</text></g>
<g id="panelE"><line x1="289" y1="223.4" x2="289" y2="325.09999999999997" stroke="#1a1a1a" stroke-width="1.55"/>
<line x1="285.0" y1="321.9" x2="516" y2="321.9" stroke="#1a1a1a" stroke-width="1.55"/>
<line x1="289.00" y1="321.9" x2="289.00" y2="325.0" stroke="#1a1a1a" stroke-width="1.15"/>
<line x1="296.57" y1="321.9" x2="296.57" y2="324.0" stroke="#1a1a1a" stroke-width="1.15"/>
<line x1="304.13" y1="321.9" x2="304.13" y2="324.0" stroke="#1a1a1a" stroke-width="1.15"/>
<line x1="311.70" y1="321.9" x2="311.70" y2="324.0" stroke="#1a1a1a" stroke-width="1.15"/>
<line x1="319.27" y1="321.9" x2="319.27" y2="324.0" stroke="#1a1a1a" stroke-width="1.15"/>
<line x1="326.83" y1="321.9" x2="326.83" y2="325.0" stroke="#1a1a1a" stroke-width="1.15"/>
<line x1="334.40" y1="321.9" x2="334.40" y2="324.0" stroke="#1a1a1a" stroke-width="1.15"/>
<line x1="341.97" y1="321.9" x2="341.97" y2="324.0" stroke="#1a1a1a" stroke-width="1.15"/>
<line x1="349.53" y1="321.9" x2="349.53" y2="324.0" stroke="#1a1a1a" stroke-width="1.15"/>
<line x1="357.10" y1="321.9" x2="357.10" y2="324.0" stroke="#1a1a1a" stroke-width="1.15"/>
<line x1="364.67" y1="321.9" x2="364.67" y2="325.0" stroke="#1a1a1a" stroke-width="1.15"/>
<line x1="372.23" y1="321.9" x2="372.23" y2="324.0" stroke="#1a1a1a" stroke-width="1.15"/>
<line x1="379.80" y1="321.9" x2="379.80" y2="324.0" stroke="#1a1a1a" stroke-width="1.15"/>
<line x1="387.37" y1="321.9" x2="387.37" y2="324.0" stroke="#1a1a1a" stroke-width="1.15"/>
<line x1="394.93" y1="321.9" x2="394.93" y2="324.0" stroke="#1a1a1a" stroke-width="1.15"/>
<line x1="402.50" y1="321.9" x2="402.50" y2="325.0" stroke="#1a1a1a" stroke-width="1.15"/>
<line x1="410.07" y1="321.9" x2="410.07" y2="324.0" stroke="#1a1a1a" stroke-width="1.15"/>
<line x1="417.63" y1="321.9" x2="417.63" y2="324.0" stroke="#1a1a1a" stroke-width="1.15"/>
<line x1="425.20" y1="321.9" x2="425.20" y2="324.0" stroke="#1a1a1a" stroke-width="1.15"/>
<line x1="432.77" y1="321.9" x2="432.77" y2="324.0" stroke="#1a1a1a" stroke-width="1.15"/>
<line x1="440.33" y1="321.9" x2="440.33" y2="325.0" stroke="#1a1a1a" stroke-width="1.15"/>
<line x1="447.90" y1="321.9" x2="447.90" y2="324.0" stroke="#1a1a1a" stroke-width="1.15"/>
<line x1="455.47" y1="321.9" x2="455.47" y2="324.0" stroke="#1a1a1a" stroke-width="1.15"/>
<line x1="463.03" y1="321.9" x2="463.03" y2="324.0" stroke="#1a1a1a" stroke-width="1.15"/>
<line x1="470.60" y1="321.9" x2="470.60" y2="324.0" stroke="#1a1a1a" stroke-width="1.15"/>
<line x1="478.17" y1="321.9" x2="478.17" y2="325.0" stroke="#1a1a1a" stroke-width="1.15"/>
<line x1="485.73" y1="321.9" x2="485.73" y2="324.0" stroke="#1a1a1a" stroke-width="1.15"/>
<line x1="493.30" y1="321.9" x2="493.30" y2="324.0" stroke="#1a1a1a" stroke-width="1.15"/>
<line x1="500.87" y1="321.9" x2="500.87" y2="324.0" stroke="#1a1a1a" stroke-width="1.15"/>
<line x1="508.43" y1="321.9" x2="508.43" y2="324.0" stroke="#1a1a1a" stroke-width="1.15"/>
<line x1="516.00" y1="321.9" x2="516.00" y2="325.0" stroke="#1a1a1a" stroke-width="1.15"/>
<line x1="287.4" y1="312.05" x2="289" y2="312.05" stroke="#1a1a1a" stroke-width="1.15"/>
<line x1="287.4" y1="302.20" x2="289" y2="302.20" stroke="#1a1a1a" stroke-width="1.15"/>
<line x1="287.4" y1="292.35" x2="289" y2="292.35" stroke="#1a1a1a" stroke-width="1.15"/>
<line x1="287.4" y1="282.50" x2="289" y2="282.50" stroke="#1a1a1a" stroke-width="1.15"/>
<line x1="287.4" y1="272.65" x2="289" y2="272.65" stroke="#1a1a1a" stroke-width="1.15"/>
<line x1="287.4" y1="262.80" x2="289" y2="262.80" stroke="#1a1a1a" stroke-width="1.15"/>
<line x1="287.4" y1="252.95" x2="289" y2="252.95" stroke="#1a1a1a" stroke-width="1.15"/>
<line x1="287.4" y1="243.10" x2="289" y2="243.10" stroke="#1a1a1a" stroke-width="1.15"/>
<line x1="287.4" y1="233.25" x2="289" y2="233.25" stroke="#1a1a1a" stroke-width="1.15"/>
<path d="M449 321 L450.6 297 L453.9 284 L456.5 274 L459.2 264.5 L462.3 252.8 L464.8 249.7 L467.8 252.2 L471.5 258.3 L474.6 266 L478.3 284 L482.8 298 L486.5 312 L490 317 L493 319.4 L497.5 321 Z" fill="#4c4c4c" stroke="#1a1a1a" stroke-width="1.7" stroke-linejoin="round"/>
<path d="M380.5 321.2 L383.5 318 L386 313.7 L388.5 308 L389.7 304.5 L392.2 300.6 L394.6 298 L398.6 296.6 L440 296.8 L446 297.3 L452 298.8 L456 301.7 L460.3 306.2 L467 310.4 L470 313.4 L473.5 316.5 L478 318.8 L483.7 320.4 L490 321.2 Z" fill="#1e1e1e" stroke="#111" stroke-width="1.4" stroke-linejoin="round"/>
<path d="M370.3 321 L375 320 L377.2 316.5 L380 317.9 L384.6 309.5 L386 312 L389 305 L392 300.4 L396 297.5 L403.2 296 L406.5 291.5 L408.3 288.8 L409.2 289.7 L411.5 273.5 L413.7 288.3 L416.6 274.9 L418.9 273.5 L420.8 278.2 L423.1 281.9 L424.2 275.9 L426.3 290.2 L427.7 279.1 L430.5 275.4 L433.2 274.5 L436 277.2 L438.8 280.4 L441.8 277.5 L444.3 272 L445.2 269.2 L447.4 274 L448.6 264 L449.5 272 L450.5 279.4 L452.9 272 L455 264 L457.5 256 L458.4 253.7 L459.8 253.4 L460.5 250 L461.4 243.5 L463.8 242.6 L465.4 244.8 L466.9 247.8 L468.2 252" fill="none" stroke="#1a1a1a" stroke-width="1.6" stroke-linejoin="round"/>
<path d="M425 296.5 L432 296 L437 294.6 L441.2 292 L443.7 287.4 L446.8 282.5 L448.6 276.3 L449.4 273 L452.5 264.5 L455.7 256 L456.8 250 L459.2 239.8 L461.4 235.5 L464.2 234.3 L466.9 235.8 L468.5 239.2 L470.3 237.4 L471.2 237.7 L473.1 246 L475.8 254 L478 246.1 L479.5 246.6 L480.5 250 L482 256.6 L484.3 284 L487 298 L488.3 310 L490 316" fill="none" stroke="#1a1a1a" stroke-width="1.6" stroke-linejoin="round"/>
<path d="M468.5 239.2 L469.4 246 L471.4 254.6 L474.8 266 L478.5 284" fill="none" stroke="#1a1a1a" stroke-width="1.5" stroke-linejoin="round"/>
<text x="499" y="237.5" font-size="14.3">E</text>
<text x="424.2" y="249.5" font-size="10" textLength="26.6" lengthAdjust="spacingAndGlyphs">100%</text></g>
</svg>
</body>
</html>
